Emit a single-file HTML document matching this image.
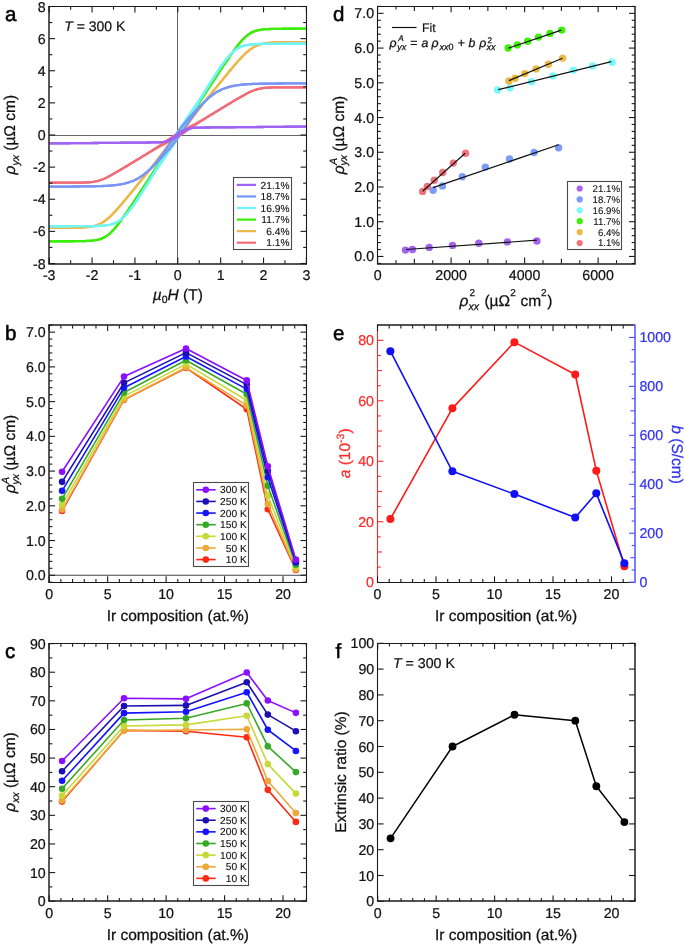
<!DOCTYPE html>
<html><head><meta charset="utf-8"><style>
html,body{margin:0;padding:0;background:#fff;}
svg{display:block;font-family:"Liberation Sans", sans-serif;text-rendering:geometricPrecision;will-change:transform;}
</style></head><body>
<svg width="685" height="944" viewBox="0 0 685 944">
<defs><clipPath id="clipA"><rect x="49.2" y="6.5" width="257.2" height="257"/></clipPath></defs>
<rect x="0" y="0" width="685" height="944" fill="#fff"/>
<line x1="177.5" y1="6.5" x2="177.5" y2="263.5" stroke="#666" stroke-width="1.0" />
<line x1="49.2" y1="135.5" x2="306.4" y2="135.5" stroke="#666" stroke-width="1.0" />
<g clip-path="url(#clipA)">
<polyline points="44.91,182.74 46.24,182.74 47.57,182.74 48.9,182.74 50.23,182.74 51.56,182.73 52.89,182.73 54.22,182.73 55.54,182.73 56.87,182.73 58.2,182.72 59.53,182.72 60.86,182.72 62.19,182.72 63.52,182.71 64.85,182.71 66.18,182.71 67.5,182.7 68.83,182.7 70.16,182.69 71.49,182.69 72.82,182.68 74.15,182.67 75.48,182.66 76.81,182.65 78.13,182.64 79.46,182.62 80.79,182.6 82.12,182.57 83.45,182.53 84.78,182.49 86.11,182.44 87.44,182.37 88.77,182.28 90.09,182.17 91.42,182.04 92.75,181.88 94.08,181.68 95.41,181.44 96.74,181.16 98.07,180.84 99.4,180.46 100.73,180.03 102.05,179.55 103.38,179.03 104.71,178.46 106.04,177.85 107.37,177.21 108.7,176.53 110.03,175.83 111.36,175.11 112.69,174.37 114.01,173.62 115.34,172.85 116.67,172.08 118,171.29 119.33,170.51 120.66,169.71 121.99,168.92 123.32,168.12 124.65,167.32 125.97,166.52 127.3,165.71 128.63,164.91 129.96,164.1 131.29,163.29 132.62,162.49 133.95,161.68 135.28,160.87 136.61,160.06 137.93,159.25 139.26,158.44 140.59,157.63 141.92,156.81 143.25,156 144.58,155.18 145.91,154.36 147.24,153.53 148.56,152.7 149.89,151.87 151.22,151.03 152.55,150.19 153.88,149.33 155.21,148.47 156.54,147.6 157.87,146.72 159.2,145.84 160.52,144.95 161.85,144.04 163.18,143.14 164.51,142.23 165.84,141.32 167.17,140.4 168.5,139.49 169.83,138.59 171.16,137.7 172.48,136.81 173.81,135.94 175.14,135.09 176.47,134.25 177.8,133.43 179.13,132.64 180.46,131.85 181.79,131.09 183.12,130.34 184.44,129.61 185.77,128.89 187.1,128.17 188.43,127.47 189.76,126.76 191.09,126.06 192.42,125.35 193.75,124.64 195.08,123.92 196.4,123.2 197.73,122.47 199.06,121.73 200.39,120.98 201.72,120.22 203.05,119.46 204.38,118.69 205.71,117.91 207.04,117.12 208.36,116.34 209.69,115.54 211.02,114.75 212.35,113.95 213.68,113.15 215.01,112.35 216.34,111.54 217.67,110.74 218.99,109.93 220.32,109.12 221.65,108.32 222.98,107.51 224.31,106.7 225.64,105.9 226.97,105.09 228.3,104.29 229.63,103.48 230.95,102.68 232.28,101.88 233.61,101.08 234.94,100.29 236.27,99.49 237.6,98.71 238.93,97.92 240.26,97.15 241.59,96.38 242.91,95.63 244.24,94.89 245.57,94.17 246.9,93.47 248.23,92.79 249.56,92.15 250.89,91.54 252.22,90.97 253.55,90.45 254.87,89.97 256.2,89.54 257.53,89.16 258.86,88.84 260.19,88.56 261.52,88.32 262.85,88.12 264.18,87.96 265.51,87.83 266.83,87.72 268.16,87.63 269.49,87.56 270.82,87.51 272.15,87.47 273.48,87.43 274.81,87.4 276.14,87.38 277.46,87.36 278.79,87.35 280.12,87.34 281.45,87.33 282.78,87.32 284.11,87.31 285.44,87.31 286.77,87.3 288.1,87.3 289.42,87.29 290.75,87.29 292.08,87.29 293.41,87.28 294.74,87.28 296.07,87.28 297.4,87.28 298.73,87.27 300.06,87.27 301.38,87.27 302.71,87.27 304.04,87.27 305.37,87.26 306.7,87.26 308.03,87.26 309.36,87.26 310.69,87.26" fill="none" stroke="#f06d78" stroke-width="2.3" stroke-linejoin="round" />
<polyline points="44.91,182.74 46.24,182.74 47.57,182.74 48.9,182.74 50.23,182.74 51.56,182.73 52.89,182.73 54.22,182.73 55.54,182.73 56.87,182.73 58.2,182.72 59.53,182.72 60.86,182.72 62.19,182.72 63.52,182.71 64.85,182.71 66.18,182.71 67.5,182.7 68.83,182.7 70.16,182.69 71.49,182.69 72.82,182.68 74.15,182.67 75.48,182.66 76.81,182.65 78.13,182.64 79.46,182.62 80.79,182.6 82.12,182.57 83.45,182.53 84.78,182.49 86.11,182.44 87.44,182.37 88.77,182.28 90.09,182.17 91.42,182.04 92.75,181.88 94.08,181.68 95.41,181.44 96.74,181.16 98.07,180.84 99.4,180.46 100.73,180.03 102.05,179.55 103.38,179.03 104.71,178.46 106.04,177.85 107.37,177.21 108.7,176.53 110.03,175.83 111.36,175.11 112.69,174.37 114.01,173.62 115.34,172.85 116.67,172.08 118,171.29 119.33,170.51 120.66,169.71 121.99,168.92 123.32,168.12 124.65,167.32 125.97,166.52 127.3,165.71 128.63,164.91 129.96,164.1 131.29,163.3 132.62,162.49 133.95,161.68 135.28,160.88 136.61,160.07 137.93,159.26 139.26,158.46 140.59,157.65 141.92,156.85 143.25,156.05 144.58,155.25 145.91,154.46 147.24,153.66 148.56,152.88 149.89,152.09 151.22,151.31 152.55,150.54 153.88,149.78 155.21,149.02 156.54,148.27 157.87,147.53 159.2,146.8 160.52,146.08 161.85,145.36 163.18,144.65 164.51,143.94 165.84,143.24 167.17,142.53 168.5,141.83 169.83,141.11 171.16,140.39 172.48,139.66 173.81,138.91 175.14,138.15 176.47,137.36 177.8,136.57 179.13,135.75 180.46,134.91 181.79,134.06 183.12,133.19 184.44,132.3 185.77,131.41 187.1,130.51 188.43,129.6 189.76,128.68 191.09,127.77 192.42,126.86 193.75,125.96 195.08,125.05 196.4,124.16 197.73,123.28 199.06,122.4 200.39,121.53 201.72,120.67 203.05,119.81 204.38,118.97 205.71,118.13 207.04,117.3 208.36,116.47 209.69,115.64 211.02,114.82 212.35,114 213.68,113.19 215.01,112.37 216.34,111.56 217.67,110.75 218.99,109.94 220.32,109.13 221.65,108.32 222.98,107.51 224.31,106.71 225.64,105.9 226.97,105.09 228.3,104.29 229.63,103.48 230.95,102.68 232.28,101.88 233.61,101.08 234.94,100.29 236.27,99.49 237.6,98.71 238.93,97.92 240.26,97.15 241.59,96.38 242.91,95.63 244.24,94.89 245.57,94.17 246.9,93.47 248.23,92.79 249.56,92.15 250.89,91.54 252.22,90.97 253.55,90.45 254.87,89.97 256.2,89.54 257.53,89.16 258.86,88.84 260.19,88.56 261.52,88.32 262.85,88.12 264.18,87.96 265.51,87.83 266.83,87.72 268.16,87.63 269.49,87.56 270.82,87.51 272.15,87.47 273.48,87.43 274.81,87.4 276.14,87.38 277.46,87.36 278.79,87.35 280.12,87.34 281.45,87.33 282.78,87.32 284.11,87.31 285.44,87.31 286.77,87.3 288.1,87.3 289.42,87.29 290.75,87.29 292.08,87.29 293.41,87.28 294.74,87.28 296.07,87.28 297.4,87.28 298.73,87.27 300.06,87.27 301.38,87.27 302.71,87.27 304.04,87.27 305.37,87.26 306.7,87.26 308.03,87.26 309.36,87.26 310.69,87.26" fill="none" stroke="#f06d78" stroke-width="2.3" stroke-linejoin="round" />
<polyline points="44.91,227.83 46.24,227.83 47.57,227.83 48.9,227.82 50.23,227.82 51.56,227.82 52.89,227.82 54.22,227.82 55.54,227.81 56.87,227.81 58.2,227.81 59.53,227.8 60.86,227.8 62.19,227.8 63.52,227.79 64.85,227.78 66.18,227.78 67.5,227.77 68.83,227.76 70.16,227.75 71.49,227.74 72.82,227.72 74.15,227.7 75.48,227.68 76.81,227.65 78.13,227.62 79.46,227.57 80.79,227.52 82.12,227.46 83.45,227.39 84.78,227.3 86.11,227.2 87.44,227.07 88.77,226.91 90.09,226.72 91.42,226.5 92.75,226.24 94.08,225.92 95.41,225.55 96.74,225.12 98.07,224.63 99.4,224.06 100.73,223.41 102.05,222.67 103.38,221.86 104.71,220.96 106.04,219.98 107.37,218.92 108.7,217.79 110.03,216.58 111.36,215.32 112.69,213.99 114.01,212.62 115.34,211.21 116.67,209.75 118,208.27 119.33,206.76 120.66,205.22 121.99,203.67 123.32,202.1 124.65,200.51 125.97,198.92 127.3,197.31 128.63,195.7 129.96,194.09 131.29,192.46 132.62,190.84 133.95,189.2 135.28,187.57 136.61,185.93 137.93,184.29 139.26,182.65 140.59,181.01 141.92,179.36 143.25,177.7 144.58,176.05 145.91,174.39 147.24,172.72 148.56,171.05 149.89,169.36 151.22,167.67 152.55,165.97 153.88,164.26 155.21,162.54 156.54,160.8 157.87,159.05 159.2,157.29 160.52,155.51 161.85,153.73 163.18,151.94 164.51,150.14 165.84,148.33 167.17,146.53 168.5,144.73 169.83,142.94 171.16,141.17 172.48,139.41 173.81,137.67 175.14,135.96 176.47,134.27 177.8,132.61 179.13,130.98 180.46,129.38 181.79,127.8 183.12,126.25 184.44,124.72 185.77,123.21 187.1,121.71 188.43,120.22 189.76,118.73 191.09,117.24 192.42,115.75 193.75,114.26 195.08,112.76 196.4,111.24 197.73,109.71 199.06,108.17 200.39,106.62 201.72,105.06 203.05,103.48 204.38,101.89 205.71,100.3 207.04,98.69 208.36,97.08 209.69,95.46 211.02,93.84 212.35,92.21 213.68,90.58 215.01,88.95 216.34,87.32 217.67,85.68 218.99,84.05 220.32,82.42 221.65,80.79 222.98,79.16 224.31,77.53 225.64,75.91 226.97,74.3 228.3,72.69 229.63,71.08 230.95,69.49 232.28,67.9 233.61,66.33 234.94,64.78 236.27,63.24 237.6,61.73 238.93,60.25 240.26,58.79 241.59,57.38 242.91,56.01 244.24,54.68 245.57,53.42 246.9,52.21 248.23,51.08 249.56,50.02 250.89,49.04 252.22,48.14 253.55,47.33 254.87,46.59 256.2,45.94 257.53,45.37 258.86,44.88 260.19,44.45 261.52,44.08 262.85,43.76 264.18,43.5 265.51,43.28 266.83,43.09 268.16,42.93 269.49,42.8 270.82,42.7 272.15,42.61 273.48,42.54 274.81,42.48 276.14,42.43 277.46,42.38 278.79,42.35 280.12,42.32 281.45,42.3 282.78,42.28 284.11,42.26 285.44,42.25 286.77,42.24 288.1,42.23 289.42,42.22 290.75,42.22 292.08,42.21 293.41,42.2 294.74,42.2 296.07,42.2 297.4,42.19 298.73,42.19 300.06,42.19 301.38,42.18 302.71,42.18 304.04,42.18 305.37,42.18 306.7,42.18 308.03,42.17 309.36,42.17 310.69,42.17" fill="none" stroke="#ecb848" stroke-width="2.3" stroke-linejoin="round" />
<polyline points="44.91,227.83 46.24,227.83 47.57,227.83 48.9,227.82 50.23,227.82 51.56,227.82 52.89,227.82 54.22,227.82 55.54,227.81 56.87,227.81 58.2,227.81 59.53,227.8 60.86,227.8 62.19,227.8 63.52,227.79 64.85,227.78 66.18,227.78 67.5,227.77 68.83,227.76 70.16,227.75 71.49,227.74 72.82,227.72 74.15,227.7 75.48,227.68 76.81,227.65 78.13,227.62 79.46,227.57 80.79,227.52 82.12,227.46 83.45,227.39 84.78,227.3 86.11,227.2 87.44,227.07 88.77,226.91 90.09,226.72 91.42,226.5 92.75,226.24 94.08,225.92 95.41,225.55 96.74,225.12 98.07,224.63 99.4,224.06 100.73,223.41 102.05,222.67 103.38,221.86 104.71,220.96 106.04,219.98 107.37,218.92 108.7,217.79 110.03,216.58 111.36,215.32 112.69,213.99 114.01,212.62 115.34,211.21 116.67,209.75 118,208.27 119.33,206.76 120.66,205.22 121.99,203.67 123.32,202.1 124.65,200.51 125.97,198.92 127.3,197.31 128.63,195.7 129.96,194.09 131.29,192.47 132.62,190.84 133.95,189.21 135.28,187.58 136.61,185.95 137.93,184.32 139.26,182.68 140.59,181.05 141.92,179.42 143.25,177.79 144.58,176.16 145.91,174.54 147.24,172.92 148.56,171.31 149.89,169.7 151.22,168.11 152.55,166.52 153.88,164.94 155.21,163.38 156.54,161.83 157.87,160.29 159.2,158.76 160.52,157.24 161.85,155.74 163.18,154.25 164.51,152.76 165.84,151.27 167.17,149.78 168.5,148.29 169.83,146.79 171.16,145.28 172.48,143.75 173.81,142.2 175.14,140.62 176.47,139.02 177.8,137.39 179.13,135.73 180.46,134.04 181.79,132.33 183.12,130.59 184.44,128.83 185.77,127.06 187.1,125.27 188.43,123.47 189.76,121.67 191.09,119.86 192.42,118.06 193.75,116.27 195.08,114.49 196.4,112.71 197.73,110.95 199.06,109.2 200.39,107.46 201.72,105.74 203.05,104.03 204.38,102.33 205.71,100.64 207.04,98.95 208.36,97.28 209.69,95.61 211.02,93.95 212.35,92.3 213.68,90.64 215.01,88.99 216.34,87.35 217.67,85.71 218.99,84.07 220.32,82.43 221.65,80.8 222.98,79.16 224.31,77.54 225.64,75.91 226.97,74.3 228.3,72.69 229.63,71.08 230.95,69.49 232.28,67.9 233.61,66.33 234.94,64.78 236.27,63.24 237.6,61.73 238.93,60.25 240.26,58.79 241.59,57.38 242.91,56.01 244.24,54.68 245.57,53.42 246.9,52.21 248.23,51.08 249.56,50.02 250.89,49.04 252.22,48.14 253.55,47.33 254.87,46.59 256.2,45.94 257.53,45.37 258.86,44.88 260.19,44.45 261.52,44.08 262.85,43.76 264.18,43.5 265.51,43.28 266.83,43.09 268.16,42.93 269.49,42.8 270.82,42.7 272.15,42.61 273.48,42.54 274.81,42.48 276.14,42.43 277.46,42.38 278.79,42.35 280.12,42.32 281.45,42.3 282.78,42.28 284.11,42.26 285.44,42.25 286.77,42.24 288.1,42.23 289.42,42.22 290.75,42.22 292.08,42.21 293.41,42.2 294.74,42.2 296.07,42.2 297.4,42.19 298.73,42.19 300.06,42.19 301.38,42.18 302.71,42.18 304.04,42.18 305.37,42.18 306.7,42.18 308.03,42.17 309.36,42.17 310.69,42.17" fill="none" stroke="#ecb848" stroke-width="2.3" stroke-linejoin="round" />
<polyline points="44.91,241.31 46.24,241.31 47.57,241.3 48.9,241.3 50.23,241.3 51.56,241.3 52.89,241.29 54.22,241.29 55.54,241.29 56.87,241.28 58.2,241.28 59.53,241.28 60.86,241.27 62.19,241.27 63.52,241.26 64.85,241.26 66.18,241.26 67.5,241.25 68.83,241.25 70.16,241.24 71.49,241.23 72.82,241.23 74.15,241.22 75.48,241.21 76.81,241.19 78.13,241.18 79.46,241.16 80.79,241.14 82.12,241.12 83.45,241.09 84.78,241.05 86.11,241 87.44,240.95 88.77,240.88 90.09,240.79 91.42,240.68 92.75,240.55 94.08,240.39 95.41,240.2 96.74,239.96 98.07,239.67 99.4,239.31 100.73,238.89 102.05,238.39 103.38,237.8 104.71,237.11 106.04,236.32 107.37,235.41 108.7,234.39 110.03,233.26 111.36,232.02 112.69,230.67 114.01,229.22 115.34,227.69 116.67,226.08 118,224.4 119.33,222.66 120.66,220.87 121.99,219.04 123.32,217.17 124.65,215.28 125.97,213.36 127.3,211.42 128.63,209.47 129.96,207.5 131.29,205.52 132.62,203.53 133.95,201.54 135.28,199.54 136.61,197.53 137.93,195.52 139.26,193.51 140.59,191.49 141.92,189.47 143.25,187.44 144.58,185.4 145.91,183.37 147.24,181.32 148.56,179.26 149.89,177.2 151.22,175.12 152.55,173.03 153.88,170.93 155.21,168.81 156.54,166.68 157.87,164.53 159.2,162.37 160.52,160.19 161.85,158 163.18,155.8 164.51,153.59 165.84,151.37 167.17,149.16 168.5,146.95 169.83,144.76 171.16,142.58 172.48,140.42 173.81,138.28 175.14,136.18 176.47,134.11 177.8,132.07 179.13,130.07 180.46,128.1 181.79,126.16 183.12,124.26 184.44,122.38 185.77,120.52 187.1,118.68 188.43,116.85 189.76,115.02 191.09,113.2 192.42,111.37 193.75,109.53 195.08,107.68 196.4,105.82 197.73,103.95 199.06,102.06 200.39,100.15 201.72,98.23 203.05,96.3 204.38,94.35 205.71,92.39 207.04,90.42 208.36,88.44 209.69,86.45 211.02,84.46 212.35,82.46 213.68,80.46 215.01,78.46 216.34,76.46 217.67,74.45 218.99,72.45 220.32,70.45 221.65,68.45 222.98,66.46 224.31,64.48 225.64,62.5 226.97,60.53 228.3,58.58 229.63,56.64 230.95,54.72 232.28,52.83 233.61,50.96 234.94,49.13 236.27,47.34 237.6,45.6 238.93,43.92 240.26,42.31 241.59,40.78 242.91,39.33 244.24,37.98 245.57,36.74 246.9,35.61 248.23,34.59 249.56,33.68 250.89,32.89 252.22,32.2 253.55,31.61 254.87,31.11 256.2,30.69 257.53,30.33 258.86,30.04 260.19,29.8 261.52,29.61 262.85,29.45 264.18,29.32 265.51,29.21 266.83,29.12 268.16,29.05 269.49,29 270.82,28.95 272.15,28.91 273.48,28.88 274.81,28.86 276.14,28.84 277.46,28.82 278.79,28.81 280.12,28.79 281.45,28.78 282.78,28.77 284.11,28.77 285.44,28.76 286.77,28.75 288.1,28.75 289.42,28.74 290.75,28.74 292.08,28.74 293.41,28.73 294.74,28.73 296.07,28.72 297.4,28.72 298.73,28.72 300.06,28.71 301.38,28.71 302.71,28.71 304.04,28.7 305.37,28.7 306.7,28.7 308.03,28.7 309.36,28.69 310.69,28.69" fill="none" stroke="#3aee0a" stroke-width="2.3" stroke-linejoin="round" />
<polyline points="44.91,241.31 46.24,241.31 47.57,241.3 48.9,241.3 50.23,241.3 51.56,241.3 52.89,241.29 54.22,241.29 55.54,241.29 56.87,241.28 58.2,241.28 59.53,241.28 60.86,241.27 62.19,241.27 63.52,241.26 64.85,241.26 66.18,241.26 67.5,241.25 68.83,241.25 70.16,241.24 71.49,241.23 72.82,241.23 74.15,241.22 75.48,241.21 76.81,241.19 78.13,241.18 79.46,241.16 80.79,241.14 82.12,241.12 83.45,241.09 84.78,241.05 86.11,241 87.44,240.95 88.77,240.88 90.09,240.79 91.42,240.68 92.75,240.55 94.08,240.39 95.41,240.2 96.74,239.96 98.07,239.67 99.4,239.31 100.73,238.89 102.05,238.39 103.38,237.8 104.71,237.11 106.04,236.32 107.37,235.41 108.7,234.39 110.03,233.26 111.36,232.02 112.69,230.67 114.01,229.22 115.34,227.69 116.67,226.08 118,224.4 119.33,222.66 120.66,220.87 121.99,219.04 123.32,217.17 124.65,215.28 125.97,213.36 127.3,211.42 128.63,209.47 129.96,207.5 131.29,205.52 132.62,203.54 133.95,201.55 135.28,199.55 136.61,197.55 137.93,195.55 139.26,193.54 140.59,191.54 141.92,189.54 143.25,187.54 144.58,185.54 145.91,183.55 147.24,181.56 148.56,179.58 149.89,177.61 151.22,175.65 152.55,173.7 153.88,171.77 155.21,169.85 156.54,167.94 157.87,166.05 159.2,164.18 160.52,162.32 161.85,160.47 163.18,158.63 164.51,156.8 165.84,154.98 167.17,153.15 168.5,151.32 169.83,149.48 171.16,147.62 172.48,145.74 173.81,143.84 175.14,141.9 176.47,139.93 177.8,137.93 179.13,135.89 180.46,133.82 181.79,131.72 183.12,129.58 184.44,127.42 185.77,125.24 187.1,123.05 188.43,120.84 189.76,118.63 191.09,116.41 192.42,114.2 193.75,112 195.08,109.81 196.4,107.63 197.73,105.47 199.06,103.32 200.39,101.19 201.72,99.07 203.05,96.97 204.38,94.88 205.71,92.8 207.04,90.74 208.36,88.68 209.69,86.63 211.02,84.6 212.35,82.56 213.68,80.53 215.01,78.51 216.34,76.49 217.67,74.48 218.99,72.47 220.32,70.46 221.65,68.46 222.98,66.47 224.31,64.48 225.64,62.5 226.97,60.53 228.3,58.58 229.63,56.64 230.95,54.72 232.28,52.83 233.61,50.96 234.94,49.13 236.27,47.34 237.6,45.6 238.93,43.92 240.26,42.31 241.59,40.78 242.91,39.33 244.24,37.98 245.57,36.74 246.9,35.61 248.23,34.59 249.56,33.68 250.89,32.89 252.22,32.2 253.55,31.61 254.87,31.11 256.2,30.69 257.53,30.33 258.86,30.04 260.19,29.8 261.52,29.61 262.85,29.45 264.18,29.32 265.51,29.21 266.83,29.12 268.16,29.05 269.49,29 270.82,28.95 272.15,28.91 273.48,28.88 274.81,28.86 276.14,28.84 277.46,28.82 278.79,28.81 280.12,28.79 281.45,28.78 282.78,28.77 284.11,28.77 285.44,28.76 286.77,28.75 288.1,28.75 289.42,28.74 290.75,28.74 292.08,28.74 293.41,28.73 294.74,28.73 296.07,28.72 297.4,28.72 298.73,28.72 300.06,28.71 301.38,28.71 302.71,28.71 304.04,28.7 305.37,28.7 306.7,28.7 308.03,28.7 309.36,28.69 310.69,28.69" fill="none" stroke="#3aee0a" stroke-width="2.3" stroke-linejoin="round" />
<polyline points="44.91,226.27 46.24,226.27 47.57,226.27 48.9,226.27 50.23,226.27 51.56,226.26 52.89,226.26 54.22,226.26 55.54,226.26 56.87,226.26 58.2,226.25 59.53,226.25 60.86,226.25 62.19,226.25 63.52,226.24 64.85,226.24 66.18,226.24 67.5,226.24 68.83,226.24 70.16,226.23 71.49,226.23 72.82,226.23 74.15,226.22 75.48,226.22 76.81,226.22 78.13,226.21 79.46,226.21 80.79,226.2 82.12,226.2 83.45,226.19 84.78,226.19 86.11,226.18 87.44,226.17 88.77,226.15 90.09,226.14 91.42,226.12 92.75,226.1 94.08,226.07 95.41,226.04 96.74,226 98.07,225.95 99.4,225.9 100.73,225.83 102.05,225.74 103.38,225.63 104.71,225.5 106.04,225.35 107.37,225.16 108.7,224.93 110.03,224.65 111.36,224.31 112.69,223.92 114.01,223.45 115.34,222.89 116.67,222.25 118,221.5 119.33,220.65 120.66,219.69 121.99,218.61 123.32,217.42 124.65,216.12 125.97,214.71 127.3,213.2 128.63,211.61 129.96,209.93 131.29,208.17 132.62,206.36 133.95,204.48 135.28,202.57 136.61,200.61 137.93,198.61 139.26,196.59 140.59,194.54 141.92,192.47 143.25,190.38 144.58,188.27 145.91,186.15 147.24,184.01 148.56,181.86 149.89,179.69 151.22,177.5 152.55,175.3 153.88,173.08 155.21,170.84 156.54,168.59 157.87,166.32 159.2,164.03 160.52,161.72 161.85,159.4 163.18,157.06 164.51,154.72 165.84,152.37 167.17,150.02 168.5,147.68 169.83,145.35 171.16,143.04 172.48,140.75 173.81,138.48 175.14,136.25 176.47,134.05 177.8,131.89 179.13,129.77 180.46,127.68 181.79,125.63 183.12,123.6 184.44,121.61 185.77,119.64 187.1,117.69 188.43,115.74 189.76,113.81 191.09,111.87 192.42,109.93 193.75,107.99 195.08,106.03 196.4,104.06 197.73,102.08 199.06,100.08 200.39,98.06 201.72,96.03 203.05,93.99 204.38,91.94 205.71,89.88 207.04,87.81 208.36,85.73 209.69,83.66 211.02,81.59 212.35,79.52 213.68,77.46 215.01,75.41 216.34,73.37 217.67,71.36 218.99,69.38 220.32,67.42 221.65,65.51 222.98,63.64 224.31,61.82 225.64,60.07 226.97,58.39 228.3,56.79 229.63,55.29 230.95,53.88 232.28,52.58 233.61,51.39 234.94,50.31 236.27,49.35 237.6,48.5 238.93,47.75 240.26,47.11 241.59,46.55 242.91,46.08 244.24,45.69 245.57,45.35 246.9,45.07 248.23,44.84 249.56,44.65 250.89,44.5 252.22,44.37 253.55,44.26 254.87,44.17 256.2,44.1 257.53,44.05 258.86,44 260.19,43.96 261.52,43.93 262.85,43.9 264.18,43.88 265.51,43.86 266.83,43.85 268.16,43.83 269.49,43.82 270.82,43.81 272.15,43.81 273.48,43.8 274.81,43.8 276.14,43.79 277.46,43.79 278.79,43.78 280.12,43.78 281.45,43.78 282.78,43.77 284.11,43.77 285.44,43.77 286.77,43.76 288.1,43.76 289.42,43.76 290.75,43.76 292.08,43.76 293.41,43.75 294.74,43.75 296.07,43.75 297.4,43.75 298.73,43.74 300.06,43.74 301.38,43.74 302.71,43.74 304.04,43.74 305.37,43.73 306.7,43.73 308.03,43.73 309.36,43.73 310.69,43.73" fill="none" stroke="#70f4f8" stroke-width="2.3" stroke-linejoin="round" />
<polyline points="44.91,226.27 46.24,226.27 47.57,226.27 48.9,226.27 50.23,226.27 51.56,226.26 52.89,226.26 54.22,226.26 55.54,226.26 56.87,226.26 58.2,226.25 59.53,226.25 60.86,226.25 62.19,226.25 63.52,226.24 64.85,226.24 66.18,226.24 67.5,226.24 68.83,226.24 70.16,226.23 71.49,226.23 72.82,226.23 74.15,226.22 75.48,226.22 76.81,226.22 78.13,226.21 79.46,226.21 80.79,226.2 82.12,226.2 83.45,226.19 84.78,226.19 86.11,226.18 87.44,226.17 88.77,226.15 90.09,226.14 91.42,226.12 92.75,226.1 94.08,226.07 95.41,226.04 96.74,226 98.07,225.95 99.4,225.9 100.73,225.83 102.05,225.74 103.38,225.63 104.71,225.5 106.04,225.35 107.37,225.16 108.7,224.93 110.03,224.65 111.36,224.31 112.69,223.92 114.01,223.45 115.34,222.89 116.67,222.25 118,221.5 119.33,220.65 120.66,219.69 121.99,218.61 123.32,217.42 124.65,216.12 125.97,214.71 127.3,213.21 128.63,211.61 129.96,209.93 131.29,208.18 132.62,206.36 133.95,204.49 135.28,202.58 136.61,200.62 137.93,198.64 139.26,196.63 140.59,194.59 141.92,192.54 143.25,190.48 144.58,188.41 145.91,186.34 147.24,184.27 148.56,182.19 149.89,180.12 151.22,178.06 152.55,176.01 153.88,173.97 155.21,171.94 156.54,169.92 157.87,167.92 159.2,165.94 160.52,163.97 161.85,162.01 163.18,160.07 164.51,158.13 165.84,156.19 167.17,154.26 168.5,152.31 169.83,150.36 171.16,148.39 172.48,146.4 173.81,144.37 175.14,142.32 176.47,140.23 177.8,138.11 179.13,135.95 180.46,133.75 181.79,131.52 183.12,129.25 184.44,126.96 185.77,124.65 187.1,122.32 188.43,119.98 189.76,117.63 191.09,115.28 192.42,112.94 193.75,110.6 195.08,108.28 196.4,105.97 197.73,103.68 199.06,101.41 200.39,99.16 201.72,96.92 203.05,94.7 204.38,92.5 205.71,90.31 207.04,88.14 208.36,85.99 209.69,83.85 211.02,81.73 212.35,79.62 213.68,77.53 215.01,75.46 216.34,73.41 217.67,71.39 218.99,69.39 220.32,67.43 221.65,65.52 222.98,63.64 224.31,61.83 225.64,60.07 226.97,58.39 228.3,56.8 229.63,55.29 230.95,53.88 232.28,52.58 233.61,51.39 234.94,50.31 236.27,49.35 237.6,48.5 238.93,47.75 240.26,47.11 241.59,46.55 242.91,46.08 244.24,45.69 245.57,45.35 246.9,45.07 248.23,44.84 249.56,44.65 250.89,44.5 252.22,44.37 253.55,44.26 254.87,44.17 256.2,44.1 257.53,44.05 258.86,44 260.19,43.96 261.52,43.93 262.85,43.9 264.18,43.88 265.51,43.86 266.83,43.85 268.16,43.83 269.49,43.82 270.82,43.81 272.15,43.81 273.48,43.8 274.81,43.8 276.14,43.79 277.46,43.79 278.79,43.78 280.12,43.78 281.45,43.78 282.78,43.77 284.11,43.77 285.44,43.77 286.77,43.76 288.1,43.76 289.42,43.76 290.75,43.76 292.08,43.76 293.41,43.75 294.74,43.75 296.07,43.75 297.4,43.75 298.73,43.74 300.06,43.74 301.38,43.74 302.71,43.74 304.04,43.74 305.37,43.73 306.7,43.73 308.03,43.73 309.36,43.73 310.69,43.73" fill="none" stroke="#70f4f8" stroke-width="2.3" stroke-linejoin="round" />
<polyline points="44.91,186.67 46.24,186.67 47.57,186.66 48.9,186.66 50.23,186.65 51.56,186.64 52.89,186.64 54.22,186.63 55.54,186.62 56.87,186.62 58.2,186.61 59.53,186.6 60.86,186.6 62.19,186.59 63.52,186.58 64.85,186.57 66.18,186.57 67.5,186.56 68.83,186.55 70.16,186.54 71.49,186.53 72.82,186.52 74.15,186.51 75.48,186.5 76.81,186.49 78.13,186.48 79.46,186.47 80.79,186.46 82.12,186.45 83.45,186.43 84.78,186.42 86.11,186.4 87.44,186.38 88.77,186.36 90.09,186.34 91.42,186.32 92.75,186.3 94.08,186.27 95.41,186.24 96.74,186.21 98.07,186.17 99.4,186.13 100.73,186.09 102.05,186.04 103.38,185.98 104.71,185.92 106.04,185.85 107.37,185.78 108.7,185.7 110.03,185.6 111.36,185.5 112.69,185.38 114.01,185.25 115.34,185.11 116.67,184.95 118,184.77 119.33,184.58 120.66,184.36 121.99,184.11 123.32,183.85 124.65,183.55 125.97,183.22 127.3,182.85 128.63,182.45 129.96,182.02 131.29,181.53 132.62,181.01 133.95,180.44 135.28,179.81 136.61,179.14 137.93,178.41 139.26,177.63 140.59,176.78 141.92,175.88 143.25,174.92 144.58,173.9 145.91,172.81 147.24,171.67 148.56,170.46 149.89,169.18 151.22,167.85 152.55,166.45 153.88,164.99 155.21,163.47 156.54,161.89 157.87,160.25 159.2,158.56 160.52,156.81 161.85,155.02 163.18,153.18 164.51,151.31 165.84,149.4 167.17,147.47 168.5,145.52 169.83,143.56 171.16,141.6 172.48,139.65 173.81,137.71 175.14,135.78 176.47,133.89 177.8,132.03 179.13,130.23 180.46,128.46 181.79,126.75 183.12,125.07 184.44,123.43 185.77,121.83 187.1,120.26 188.43,118.72 189.76,117.2 191.09,115.7 192.42,114.22 193.75,112.76 195.08,111.31 196.4,109.88 197.73,108.47 199.06,107.08 200.39,105.71 201.72,104.36 203.05,103.05 204.38,101.77 205.71,100.53 207.04,99.33 208.36,98.18 209.69,97.08 211.02,96.02 212.35,95.02 213.68,94.08 215.01,93.19 216.34,92.36 217.67,91.58 218.99,90.85 220.32,90.18 221.65,89.56 222.98,88.99 224.31,88.46 225.64,87.98 226.97,87.55 228.3,87.15 229.63,86.78 230.95,86.45 232.28,86.15 233.61,85.89 234.94,85.64 236.27,85.42 237.6,85.23 238.93,85.05 240.26,84.89 241.59,84.75 242.91,84.62 244.24,84.5 245.57,84.4 246.9,84.3 248.23,84.22 249.56,84.15 250.89,84.08 252.22,84.02 253.55,83.96 254.87,83.91 256.2,83.87 257.53,83.83 258.86,83.79 260.19,83.76 261.52,83.73 262.85,83.7 264.18,83.68 265.51,83.66 266.83,83.64 268.16,83.62 269.49,83.6 270.82,83.58 272.15,83.57 273.48,83.55 274.81,83.54 276.14,83.53 277.46,83.52 278.79,83.51 280.12,83.5 281.45,83.49 282.78,83.48 284.11,83.47 285.44,83.46 286.77,83.45 288.1,83.44 289.42,83.43 290.75,83.43 292.08,83.42 293.41,83.41 294.74,83.4 296.07,83.4 297.4,83.39 298.73,83.38 300.06,83.38 301.38,83.37 302.71,83.36 304.04,83.36 305.37,83.35 306.7,83.34 308.03,83.34 309.36,83.33 310.69,83.33" fill="none" stroke="#7a96f5" stroke-width="2.3" stroke-linejoin="round" />
<polyline points="44.91,186.67 46.24,186.67 47.57,186.66 48.9,186.66 50.23,186.65 51.56,186.64 52.89,186.64 54.22,186.63 55.54,186.62 56.87,186.62 58.2,186.61 59.53,186.6 60.86,186.6 62.19,186.59 63.52,186.58 64.85,186.57 66.18,186.57 67.5,186.56 68.83,186.55 70.16,186.54 71.49,186.53 72.82,186.52 74.15,186.51 75.48,186.5 76.81,186.49 78.13,186.48 79.46,186.47 80.79,186.46 82.12,186.45 83.45,186.43 84.78,186.42 86.11,186.4 87.44,186.38 88.77,186.36 90.09,186.34 91.42,186.32 92.75,186.3 94.08,186.27 95.41,186.24 96.74,186.21 98.07,186.17 99.4,186.13 100.73,186.09 102.05,186.04 103.38,185.98 104.71,185.92 106.04,185.85 107.37,185.78 108.7,185.7 110.03,185.6 111.36,185.5 112.69,185.38 114.01,185.25 115.34,185.11 116.67,184.95 118,184.77 119.33,184.58 120.66,184.36 121.99,184.11 123.32,183.85 124.65,183.55 125.97,183.22 127.3,182.85 128.63,182.45 129.96,182.02 131.29,181.54 132.62,181.01 133.95,180.44 135.28,179.82 136.61,179.15 137.93,178.42 139.26,177.64 140.59,176.81 141.92,175.92 143.25,174.98 144.58,173.98 145.91,172.92 147.24,171.82 148.56,170.67 149.89,169.47 151.22,168.23 152.55,166.95 153.88,165.64 155.21,164.29 156.54,162.92 157.87,161.53 159.2,160.12 160.52,158.69 161.85,157.24 163.18,155.78 164.51,154.3 165.84,152.8 167.17,151.28 168.5,149.74 169.83,148.17 171.16,146.57 172.48,144.93 173.81,143.25 175.14,141.54 176.47,139.77 177.8,137.97 179.13,136.11 180.46,134.22 181.79,132.29 183.12,130.35 184.44,128.4 185.77,126.44 187.1,124.48 188.43,122.53 189.76,120.6 191.09,118.69 192.42,116.82 193.75,114.98 195.08,113.19 196.4,111.44 197.73,109.75 199.06,108.11 200.39,106.53 201.72,105.01 203.05,103.55 204.38,102.15 205.71,100.82 207.04,99.54 208.36,98.33 209.69,97.19 211.02,96.1 212.35,95.08 213.68,94.12 215.01,93.22 216.34,92.37 217.67,91.59 218.99,90.86 220.32,90.19 221.65,89.56 222.98,88.99 224.31,88.47 225.64,87.98 226.97,87.55 228.3,87.15 229.63,86.78 230.95,86.45 232.28,86.15 233.61,85.89 234.94,85.64 236.27,85.42 237.6,85.23 238.93,85.05 240.26,84.89 241.59,84.75 242.91,84.62 244.24,84.5 245.57,84.4 246.9,84.3 248.23,84.22 249.56,84.15 250.89,84.08 252.22,84.02 253.55,83.96 254.87,83.91 256.2,83.87 257.53,83.83 258.86,83.79 260.19,83.76 261.52,83.73 262.85,83.7 264.18,83.68 265.51,83.66 266.83,83.64 268.16,83.62 269.49,83.6 270.82,83.58 272.15,83.57 273.48,83.55 274.81,83.54 276.14,83.53 277.46,83.52 278.79,83.51 280.12,83.5 281.45,83.49 282.78,83.48 284.11,83.47 285.44,83.46 286.77,83.45 288.1,83.44 289.42,83.43 290.75,83.43 292.08,83.42 293.41,83.41 294.74,83.4 296.07,83.4 297.4,83.39 298.73,83.38 300.06,83.38 301.38,83.37 302.71,83.36 304.04,83.36 305.37,83.35 306.7,83.34 308.03,83.34 309.36,83.33 310.69,83.33" fill="none" stroke="#7a96f5" stroke-width="2.3" stroke-linejoin="round" />
<polyline points="44.91,143.47 46.24,143.46 47.57,143.45 48.9,143.44 50.23,143.42 51.56,143.41 52.89,143.4 54.22,143.39 55.54,143.37 56.87,143.36 58.2,143.35 59.53,143.34 60.86,143.32 62.19,143.31 63.52,143.3 64.85,143.29 66.18,143.27 67.5,143.26 68.83,143.25 70.16,143.24 71.49,143.22 72.82,143.21 74.15,143.2 75.48,143.19 76.81,143.17 78.13,143.16 79.46,143.15 80.79,143.14 82.12,143.12 83.45,143.11 84.78,143.1 86.11,143.09 87.44,143.07 88.77,143.06 90.09,143.05 91.42,143.04 92.75,143.02 94.08,143.01 95.41,143 96.74,142.99 98.07,142.98 99.4,142.96 100.73,142.95 102.05,142.94 103.38,142.93 104.71,142.91 106.04,142.9 107.37,142.89 108.7,142.88 110.03,142.86 111.36,142.85 112.69,142.84 114.01,142.83 115.34,142.81 116.67,142.8 118,142.79 119.33,142.78 120.66,142.76 121.99,142.75 123.32,142.74 124.65,142.73 125.97,142.71 127.3,142.7 128.63,142.69 129.96,142.68 131.29,142.66 132.62,142.65 133.95,142.64 135.28,142.63 136.61,142.61 137.93,142.6 139.26,142.59 140.59,142.58 141.92,142.56 143.25,142.55 144.58,142.54 145.91,142.52 147.24,142.51 148.56,142.5 149.89,142.48 151.22,142.46 152.55,142.45 153.88,142.42 155.21,142.4 156.54,142.36 157.87,142.32 159.2,142.26 160.52,142.17 161.85,142.05 163.18,141.88 164.51,141.64 165.84,141.31 167.17,140.87 168.5,140.32 169.83,139.64 171.16,138.86 172.48,137.98 173.81,137.04 175.14,136.05 176.47,135.04 177.8,134.03 179.13,133.07 180.46,132.17 181.79,131.34 183.12,130.6 184.44,129.95 185.77,129.4 187.1,128.96 188.43,128.6 189.76,128.32 191.09,128.12 192.42,127.96 193.75,127.85 195.08,127.77 196.4,127.7 197.73,127.66 199.06,127.62 200.39,127.59 201.72,127.57 203.05,127.55 204.38,127.53 205.71,127.52 207.04,127.5 208.36,127.49 209.69,127.47 211.02,127.46 212.35,127.45 213.68,127.44 215.01,127.42 216.34,127.41 217.67,127.4 218.99,127.39 220.32,127.37 221.65,127.36 222.98,127.35 224.31,127.34 225.64,127.32 226.97,127.31 228.3,127.3 229.63,127.29 230.95,127.27 232.28,127.26 233.61,127.25 234.94,127.24 236.27,127.22 237.6,127.21 238.93,127.2 240.26,127.19 241.59,127.17 242.91,127.16 244.24,127.15 245.57,127.14 246.9,127.12 248.23,127.11 249.56,127.1 250.89,127.09 252.22,127.07 253.55,127.06 254.87,127.05 256.2,127.04 257.53,127.02 258.86,127.01 260.19,127 261.52,126.99 262.85,126.98 264.18,126.96 265.51,126.95 266.83,126.94 268.16,126.93 269.49,126.91 270.82,126.9 272.15,126.89 273.48,126.88 274.81,126.86 276.14,126.85 277.46,126.84 278.79,126.83 280.12,126.81 281.45,126.8 282.78,126.79 284.11,126.78 285.44,126.76 286.77,126.75 288.1,126.74 289.42,126.73 290.75,126.71 292.08,126.7 293.41,126.69 294.74,126.68 296.07,126.66 297.4,126.65 298.73,126.64 300.06,126.63 301.38,126.61 302.71,126.6 304.04,126.59 305.37,126.58 306.7,126.56 308.03,126.55 309.36,126.54 310.69,126.53" fill="none" stroke="#a062f2" stroke-width="2.3" stroke-linejoin="round" />
<polyline points="44.91,143.47 46.24,143.46 47.57,143.45 48.9,143.44 50.23,143.42 51.56,143.41 52.89,143.4 54.22,143.39 55.54,143.37 56.87,143.36 58.2,143.35 59.53,143.34 60.86,143.32 62.19,143.31 63.52,143.3 64.85,143.29 66.18,143.27 67.5,143.26 68.83,143.25 70.16,143.24 71.49,143.22 72.82,143.21 74.15,143.2 75.48,143.19 76.81,143.17 78.13,143.16 79.46,143.15 80.79,143.14 82.12,143.12 83.45,143.11 84.78,143.1 86.11,143.09 87.44,143.07 88.77,143.06 90.09,143.05 91.42,143.04 92.75,143.02 94.08,143.01 95.41,143 96.74,142.99 98.07,142.98 99.4,142.96 100.73,142.95 102.05,142.94 103.38,142.93 104.71,142.91 106.04,142.9 107.37,142.89 108.7,142.88 110.03,142.86 111.36,142.85 112.69,142.84 114.01,142.83 115.34,142.81 116.67,142.8 118,142.79 119.33,142.78 120.66,142.76 121.99,142.75 123.32,142.74 124.65,142.73 125.97,142.71 127.3,142.7 128.63,142.69 129.96,142.68 131.29,142.66 132.62,142.65 133.95,142.64 135.28,142.63 136.61,142.61 137.93,142.6 139.26,142.59 140.59,142.58 141.92,142.56 143.25,142.55 144.58,142.54 145.91,142.53 147.24,142.51 148.56,142.5 149.89,142.48 151.22,142.47 152.55,142.45 153.88,142.43 155.21,142.41 156.54,142.38 157.87,142.34 159.2,142.3 160.52,142.23 161.85,142.15 163.18,142.04 164.51,141.88 165.84,141.68 167.17,141.4 168.5,141.04 169.83,140.6 171.16,140.05 172.48,139.4 173.81,138.66 175.14,137.83 176.47,136.93 177.8,135.97 179.13,134.96 180.46,133.95 181.79,132.96 183.12,132.02 184.44,131.14 185.77,130.36 187.1,129.68 188.43,129.13 189.76,128.69 191.09,128.36 192.42,128.12 193.75,127.95 195.08,127.83 196.4,127.74 197.73,127.68 199.06,127.64 200.39,127.6 201.72,127.58 203.05,127.55 204.38,127.54 205.71,127.52 207.04,127.5 208.36,127.49 209.69,127.48 211.02,127.46 212.35,127.45 213.68,127.44 215.01,127.42 216.34,127.41 217.67,127.4 218.99,127.39 220.32,127.37 221.65,127.36 222.98,127.35 224.31,127.34 225.64,127.32 226.97,127.31 228.3,127.3 229.63,127.29 230.95,127.27 232.28,127.26 233.61,127.25 234.94,127.24 236.27,127.22 237.6,127.21 238.93,127.2 240.26,127.19 241.59,127.17 242.91,127.16 244.24,127.15 245.57,127.14 246.9,127.12 248.23,127.11 249.56,127.1 250.89,127.09 252.22,127.07 253.55,127.06 254.87,127.05 256.2,127.04 257.53,127.02 258.86,127.01 260.19,127 261.52,126.99 262.85,126.98 264.18,126.96 265.51,126.95 266.83,126.94 268.16,126.93 269.49,126.91 270.82,126.9 272.15,126.89 273.48,126.88 274.81,126.86 276.14,126.85 277.46,126.84 278.79,126.83 280.12,126.81 281.45,126.8 282.78,126.79 284.11,126.78 285.44,126.76 286.77,126.75 288.1,126.74 289.42,126.73 290.75,126.71 292.08,126.7 293.41,126.69 294.74,126.68 296.07,126.66 297.4,126.65 298.73,126.64 300.06,126.63 301.38,126.61 302.71,126.6 304.04,126.59 305.37,126.58 306.7,126.56 308.03,126.55 309.36,126.54 310.69,126.53" fill="none" stroke="#a062f2" stroke-width="2.3" stroke-linejoin="round" />
</g>
<line x1="48.27" y1="6.5" x2="307.05" y2="6.5" stroke="#1a1a1a" stroke-width="1.1" />
<line x1="48.27" y1="264" x2="307.05" y2="264" stroke="#1a1a1a" stroke-width="1.45" />
<line x1="49" y1="6.5" x2="49" y2="264" stroke="#1a1a1a" stroke-width="1.45" />
<line x1="306.5" y1="6.5" x2="306.5" y2="264" stroke="#1a1a1a" stroke-width="1.1" />
<line x1="70.63" y1="263.5" x2="70.63" y2="260.3" stroke="#1a1a1a" stroke-width="1.1" />
<line x1="70.63" y1="6.5" x2="70.63" y2="9.7" stroke="#1a1a1a" stroke-width="1.1" />
<line x1="113.5" y1="263.5" x2="113.5" y2="260.3" stroke="#1a1a1a" stroke-width="1.1" />
<line x1="113.5" y1="6.5" x2="113.5" y2="9.7" stroke="#1a1a1a" stroke-width="1.1" />
<line x1="156.37" y1="263.5" x2="156.37" y2="260.3" stroke="#1a1a1a" stroke-width="1.1" />
<line x1="156.37" y1="6.5" x2="156.37" y2="9.7" stroke="#1a1a1a" stroke-width="1.1" />
<line x1="199.23" y1="263.5" x2="199.23" y2="260.3" stroke="#1a1a1a" stroke-width="1.1" />
<line x1="199.23" y1="6.5" x2="199.23" y2="9.7" stroke="#1a1a1a" stroke-width="1.1" />
<line x1="242.1" y1="263.5" x2="242.1" y2="260.3" stroke="#1a1a1a" stroke-width="1.1" />
<line x1="242.1" y1="6.5" x2="242.1" y2="9.7" stroke="#1a1a1a" stroke-width="1.1" />
<line x1="284.97" y1="263.5" x2="284.97" y2="260.3" stroke="#1a1a1a" stroke-width="1.1" />
<line x1="284.97" y1="6.5" x2="284.97" y2="9.7" stroke="#1a1a1a" stroke-width="1.1" />
<line x1="49.2" y1="263.5" x2="49.2" y2="257.6" stroke="#1a1a1a" stroke-width="1.1" />
<line x1="49.2" y1="6.5" x2="49.2" y2="12.4" stroke="#1a1a1a" stroke-width="1.1" />
<line x1="92.07" y1="263.5" x2="92.07" y2="257.6" stroke="#1a1a1a" stroke-width="1.1" />
<line x1="92.07" y1="6.5" x2="92.07" y2="12.4" stroke="#1a1a1a" stroke-width="1.1" />
<line x1="134.93" y1="263.5" x2="134.93" y2="257.6" stroke="#1a1a1a" stroke-width="1.1" />
<line x1="134.93" y1="6.5" x2="134.93" y2="12.4" stroke="#1a1a1a" stroke-width="1.1" />
<line x1="177.8" y1="263.5" x2="177.8" y2="257.6" stroke="#1a1a1a" stroke-width="1.1" />
<line x1="177.8" y1="6.5" x2="177.8" y2="12.4" stroke="#1a1a1a" stroke-width="1.1" />
<line x1="220.67" y1="263.5" x2="220.67" y2="257.6" stroke="#1a1a1a" stroke-width="1.1" />
<line x1="220.67" y1="6.5" x2="220.67" y2="12.4" stroke="#1a1a1a" stroke-width="1.1" />
<line x1="263.53" y1="263.5" x2="263.53" y2="257.6" stroke="#1a1a1a" stroke-width="1.1" />
<line x1="263.53" y1="6.5" x2="263.53" y2="12.4" stroke="#1a1a1a" stroke-width="1.1" />
<line x1="306.4" y1="263.5" x2="306.4" y2="257.6" stroke="#1a1a1a" stroke-width="1.1" />
<line x1="306.4" y1="6.5" x2="306.4" y2="12.4" stroke="#1a1a1a" stroke-width="1.1" />
<line x1="49.2" y1="247.44" x2="52.4" y2="247.44" stroke="#1a1a1a" stroke-width="1.1" />
<line x1="306.4" y1="247.44" x2="303.2" y2="247.44" stroke="#1a1a1a" stroke-width="1.1" />
<line x1="49.2" y1="215.31" x2="52.4" y2="215.31" stroke="#1a1a1a" stroke-width="1.1" />
<line x1="306.4" y1="215.31" x2="303.2" y2="215.31" stroke="#1a1a1a" stroke-width="1.1" />
<line x1="49.2" y1="183.19" x2="52.4" y2="183.19" stroke="#1a1a1a" stroke-width="1.1" />
<line x1="306.4" y1="183.19" x2="303.2" y2="183.19" stroke="#1a1a1a" stroke-width="1.1" />
<line x1="49.2" y1="151.06" x2="52.4" y2="151.06" stroke="#1a1a1a" stroke-width="1.1" />
<line x1="306.4" y1="151.06" x2="303.2" y2="151.06" stroke="#1a1a1a" stroke-width="1.1" />
<line x1="49.2" y1="118.94" x2="52.4" y2="118.94" stroke="#1a1a1a" stroke-width="1.1" />
<line x1="306.4" y1="118.94" x2="303.2" y2="118.94" stroke="#1a1a1a" stroke-width="1.1" />
<line x1="49.2" y1="86.81" x2="52.4" y2="86.81" stroke="#1a1a1a" stroke-width="1.1" />
<line x1="306.4" y1="86.81" x2="303.2" y2="86.81" stroke="#1a1a1a" stroke-width="1.1" />
<line x1="49.2" y1="54.69" x2="52.4" y2="54.69" stroke="#1a1a1a" stroke-width="1.1" />
<line x1="306.4" y1="54.69" x2="303.2" y2="54.69" stroke="#1a1a1a" stroke-width="1.1" />
<line x1="49.2" y1="22.56" x2="52.4" y2="22.56" stroke="#1a1a1a" stroke-width="1.1" />
<line x1="306.4" y1="22.56" x2="303.2" y2="22.56" stroke="#1a1a1a" stroke-width="1.1" />
<line x1="49.2" y1="263.5" x2="55.1" y2="263.5" stroke="#1a1a1a" stroke-width="1.1" />
<line x1="306.4" y1="263.5" x2="300.5" y2="263.5" stroke="#1a1a1a" stroke-width="1.1" />
<line x1="49.2" y1="231.38" x2="55.1" y2="231.38" stroke="#1a1a1a" stroke-width="1.1" />
<line x1="306.4" y1="231.38" x2="300.5" y2="231.38" stroke="#1a1a1a" stroke-width="1.1" />
<line x1="49.2" y1="199.25" x2="55.1" y2="199.25" stroke="#1a1a1a" stroke-width="1.1" />
<line x1="306.4" y1="199.25" x2="300.5" y2="199.25" stroke="#1a1a1a" stroke-width="1.1" />
<line x1="49.2" y1="167.12" x2="55.1" y2="167.12" stroke="#1a1a1a" stroke-width="1.1" />
<line x1="306.4" y1="167.12" x2="300.5" y2="167.12" stroke="#1a1a1a" stroke-width="1.1" />
<line x1="49.2" y1="135" x2="55.1" y2="135" stroke="#1a1a1a" stroke-width="1.1" />
<line x1="306.4" y1="135" x2="300.5" y2="135" stroke="#1a1a1a" stroke-width="1.1" />
<line x1="49.2" y1="102.88" x2="55.1" y2="102.88" stroke="#1a1a1a" stroke-width="1.1" />
<line x1="306.4" y1="102.88" x2="300.5" y2="102.88" stroke="#1a1a1a" stroke-width="1.1" />
<line x1="49.2" y1="70.75" x2="55.1" y2="70.75" stroke="#1a1a1a" stroke-width="1.1" />
<line x1="306.4" y1="70.75" x2="300.5" y2="70.75" stroke="#1a1a1a" stroke-width="1.1" />
<line x1="49.2" y1="38.62" x2="55.1" y2="38.62" stroke="#1a1a1a" stroke-width="1.1" />
<line x1="306.4" y1="38.62" x2="300.5" y2="38.62" stroke="#1a1a1a" stroke-width="1.1" />
<line x1="49.2" y1="6.5" x2="55.1" y2="6.5" stroke="#1a1a1a" stroke-width="1.1" />
<line x1="306.4" y1="6.5" x2="300.5" y2="6.5" stroke="#1a1a1a" stroke-width="1.1" />
<text x="49.2" y="280" font-size="14.2" text-anchor="middle" fill="#111"  stroke="#111" stroke-width="0.22">-3</text>
<text x="92.07" y="280" font-size="14.2" text-anchor="middle" fill="#111"  stroke="#111" stroke-width="0.22">-2</text>
<text x="134.93" y="280" font-size="14.2" text-anchor="middle" fill="#111"  stroke="#111" stroke-width="0.22">-1</text>
<text x="177.8" y="280" font-size="14.2" text-anchor="middle" fill="#111"  stroke="#111" stroke-width="0.22">0</text>
<text x="220.67" y="280" font-size="14.2" text-anchor="middle" fill="#111"  stroke="#111" stroke-width="0.22">1</text>
<text x="263.53" y="280" font-size="14.2" text-anchor="middle" fill="#111"  stroke="#111" stroke-width="0.22">2</text>
<text x="306.4" y="280" font-size="14.2" text-anchor="middle" fill="#111"  stroke="#111" stroke-width="0.22">3</text>
<text x="45.7" y="268.5" font-size="14.2" text-anchor="end" fill="#111"  stroke="#111" stroke-width="0.22">-8</text>
<text x="45.7" y="236.38" font-size="14.2" text-anchor="end" fill="#111"  stroke="#111" stroke-width="0.22">-6</text>
<text x="45.7" y="204.25" font-size="14.2" text-anchor="end" fill="#111"  stroke="#111" stroke-width="0.22">-4</text>
<text x="45.7" y="172.12" font-size="14.2" text-anchor="end" fill="#111"  stroke="#111" stroke-width="0.22">-2</text>
<text x="45.7" y="140" font-size="14.2" text-anchor="end" fill="#111"  stroke="#111" stroke-width="0.22">0</text>
<text x="45.7" y="107.88" font-size="14.2" text-anchor="end" fill="#111"  stroke="#111" stroke-width="0.22">2</text>
<text x="45.7" y="75.75" font-size="14.2" text-anchor="end" fill="#111"  stroke="#111" stroke-width="0.22">4</text>
<text x="45.7" y="43.62" font-size="14.2" text-anchor="end" fill="#111"  stroke="#111" stroke-width="0.22">6</text>
<text x="45.7" y="11.5" font-size="14.2" text-anchor="end" fill="#111"  stroke="#111" stroke-width="0.22">8</text>
<text x="5" y="20.7" font-size="20.5" text-anchor="start" fill="#000" stroke="#000" stroke-width="0.55">a</text>
<text x="64.2" y="31.3" font-size="14" text-anchor="start" fill="#111"  stroke="#111" stroke-width="0.22"><tspan font-style="italic">T</tspan> = 300 K</text>
<text transform="translate(15.0,134.7) rotate(-90)" font-size="15.5" text-anchor="middle" fill="#111" stroke="#111" stroke-width="0.25"><tspan font-style="italic">ρ</tspan><tspan font-size="10.5" dy="3.5" font-style="italic">yx</tspan><tspan dy="-3.5"> (µΩ cm)</tspan></text>
<text x="177.8" y="299.5" font-size="15.5" text-anchor="middle" fill="#111" stroke="#111" stroke-width="0.25"><tspan font-style="italic">µ</tspan><tspan font-size="10.5" dy="3.5">0</tspan><tspan dy="-3.5" font-style="italic">H</tspan> (T)</text>
<rect x="233.5" y="177.5" width="58" height="72" fill="#fff" stroke="#4a4a4a" stroke-width="1.1"/>
<line x1="236.7" y1="184.9" x2="256" y2="184.9" stroke="#a062f2" stroke-width="2.2" />
<text x="289.5" y="188.5" font-size="10.2" text-anchor="end" fill="#111"  stroke="#111" stroke-width="0.12">21.1%</text>
<line x1="236.7" y1="196.46" x2="256" y2="196.46" stroke="#7a96f5" stroke-width="2.2" />
<text x="289.5" y="200.06" font-size="10.2" text-anchor="end" fill="#111"  stroke="#111" stroke-width="0.12">18.7%</text>
<line x1="236.7" y1="208.02" x2="256" y2="208.02" stroke="#70f4f8" stroke-width="2.2" />
<text x="289.5" y="211.62" font-size="10.2" text-anchor="end" fill="#111"  stroke="#111" stroke-width="0.12">16.9%</text>
<line x1="236.7" y1="219.58" x2="256" y2="219.58" stroke="#3aee0a" stroke-width="2.2" />
<text x="289.5" y="223.18" font-size="10.2" text-anchor="end" fill="#111"  stroke="#111" stroke-width="0.12">11.7%</text>
<line x1="236.7" y1="231.14" x2="256" y2="231.14" stroke="#ecb848" stroke-width="2.2" />
<text x="289.5" y="234.74" font-size="10.2" text-anchor="end" fill="#111"  stroke="#111" stroke-width="0.12">6.4%</text>
<line x1="236.7" y1="242.7" x2="256" y2="242.7" stroke="#f06d78" stroke-width="2.2" />
<text x="289.5" y="246.3" font-size="10.2" text-anchor="end" fill="#111"  stroke="#111" stroke-width="0.12">1.1%</text>
<line x1="49.2" y1="575.25" x2="306.4" y2="575.25" stroke="#444" stroke-width="1.0" />
<polyline points="62.06,511 124.02,399.87 185.98,367.92 246.78,409.25 267.82,509.27 295.88,570.04" fill="none" stroke="#ff2a14" stroke-width="1.6" stroke-linejoin="round" />
<circle cx="62.06" cy="511" r="3.3" fill="#ff2a14" />
<circle cx="124.02" cy="399.87" r="3.3" fill="#ff2a14" />
<circle cx="185.98" cy="367.92" r="3.3" fill="#ff2a14" />
<circle cx="246.78" cy="409.25" r="3.3" fill="#ff2a14" />
<circle cx="267.82" cy="509.27" r="3.3" fill="#ff2a14" />
<circle cx="295.88" cy="570.04" r="3.3" fill="#ff2a14" />
<polyline points="62.06,509.61 124.02,399.52 185.98,367.57 246.78,405.43 267.82,504.06 295.88,569.35" fill="none" stroke="#eca838" stroke-width="1.6" stroke-linejoin="round" />
<circle cx="62.06" cy="509.61" r="3.3" fill="#eca838" />
<circle cx="124.02" cy="399.52" r="3.3" fill="#eca838" />
<circle cx="185.98" cy="367.57" r="3.3" fill="#eca838" />
<circle cx="246.78" cy="405.43" r="3.3" fill="#eca838" />
<circle cx="267.82" cy="504.06" r="3.3" fill="#eca838" />
<circle cx="295.88" cy="569.35" r="3.3" fill="#eca838" />
<polyline points="62.06,504.75 124.02,396.4 185.98,364.1 246.78,400.22 267.82,495.38 295.88,567.27" fill="none" stroke="#c8d838" stroke-width="1.6" stroke-linejoin="round" />
<circle cx="62.06" cy="504.75" r="3.3" fill="#c8d838" />
<circle cx="124.02" cy="396.4" r="3.3" fill="#c8d838" />
<circle cx="185.98" cy="364.1" r="3.3" fill="#c8d838" />
<circle cx="246.78" cy="400.22" r="3.3" fill="#c8d838" />
<circle cx="267.82" cy="495.38" r="3.3" fill="#c8d838" />
<circle cx="295.88" cy="567.27" r="3.3" fill="#c8d838" />
<polyline points="62.06,498.85 124.02,392.58 185.98,360.28 246.78,394.31 267.82,485.65 295.88,564.84" fill="none" stroke="#38a828" stroke-width="1.6" stroke-linejoin="round" />
<circle cx="62.06" cy="498.85" r="3.3" fill="#38a828" />
<circle cx="124.02" cy="392.58" r="3.3" fill="#38a828" />
<circle cx="185.98" cy="360.28" r="3.3" fill="#38a828" />
<circle cx="246.78" cy="394.31" r="3.3" fill="#38a828" />
<circle cx="267.82" cy="485.65" r="3.3" fill="#38a828" />
<circle cx="295.88" cy="564.84" r="3.3" fill="#38a828" />
<polyline points="62.06,490.86 124.02,387.71 185.98,356.46 246.78,389.1 267.82,477.32 295.88,562.4" fill="none" stroke="#1414ff" stroke-width="1.6" stroke-linejoin="round" />
<circle cx="62.06" cy="490.86" r="3.3" fill="#1414ff" />
<circle cx="124.02" cy="387.71" r="3.3" fill="#1414ff" />
<circle cx="185.98" cy="356.46" r="3.3" fill="#1414ff" />
<circle cx="246.78" cy="389.1" r="3.3" fill="#1414ff" />
<circle cx="267.82" cy="477.32" r="3.3" fill="#1414ff" />
<circle cx="295.88" cy="562.4" r="3.3" fill="#1414ff" />
<polyline points="62.06,481.83 124.02,382.85 185.98,352.64 246.78,384.59 267.82,471.06 295.88,561.01" fill="none" stroke="#1c10b0" stroke-width="1.6" stroke-linejoin="round" />
<circle cx="62.06" cy="481.83" r="3.3" fill="#1c10b0" />
<circle cx="124.02" cy="382.85" r="3.3" fill="#1c10b0" />
<circle cx="185.98" cy="352.64" r="3.3" fill="#1c10b0" />
<circle cx="246.78" cy="384.59" r="3.3" fill="#1c10b0" />
<circle cx="267.82" cy="471.06" r="3.3" fill="#1c10b0" />
<circle cx="295.88" cy="561.01" r="3.3" fill="#1c10b0" />
<polyline points="62.06,471.76 124.02,376.6 185.98,348.47 246.78,380.42 267.82,466.2 295.88,559.63" fill="none" stroke="#8a10ff" stroke-width="1.6" stroke-linejoin="round" />
<circle cx="62.06" cy="471.76" r="3.3" fill="#8a10ff" />
<circle cx="124.02" cy="376.6" r="3.3" fill="#8a10ff" />
<circle cx="185.98" cy="348.47" r="3.3" fill="#8a10ff" />
<circle cx="246.78" cy="380.42" r="3.3" fill="#8a10ff" />
<circle cx="267.82" cy="466.2" r="3.3" fill="#8a10ff" />
<circle cx="295.88" cy="559.63" r="3.3" fill="#8a10ff" />
<line x1="48.27" y1="325" x2="307.05" y2="325" stroke="#1a1a1a" stroke-width="1.45" />
<line x1="48.27" y1="582.5" x2="307.05" y2="582.5" stroke="#1a1a1a" stroke-width="1.1" />
<line x1="49" y1="325" x2="49" y2="582.5" stroke="#1a1a1a" stroke-width="1.45" />
<line x1="306.5" y1="325" x2="306.5" y2="582.5" stroke="#1a1a1a" stroke-width="1.1" />
<line x1="60.89" y1="582.2" x2="60.89" y2="579" stroke="#1a1a1a" stroke-width="1.1" />
<line x1="60.89" y1="325.2" x2="60.89" y2="328.4" stroke="#1a1a1a" stroke-width="1.1" />
<line x1="72.58" y1="582.2" x2="72.58" y2="579" stroke="#1a1a1a" stroke-width="1.1" />
<line x1="72.58" y1="325.2" x2="72.58" y2="328.4" stroke="#1a1a1a" stroke-width="1.1" />
<line x1="84.27" y1="582.2" x2="84.27" y2="579" stroke="#1a1a1a" stroke-width="1.1" />
<line x1="84.27" y1="325.2" x2="84.27" y2="328.4" stroke="#1a1a1a" stroke-width="1.1" />
<line x1="95.96" y1="582.2" x2="95.96" y2="579" stroke="#1a1a1a" stroke-width="1.1" />
<line x1="95.96" y1="325.2" x2="95.96" y2="328.4" stroke="#1a1a1a" stroke-width="1.1" />
<line x1="119.35" y1="582.2" x2="119.35" y2="579" stroke="#1a1a1a" stroke-width="1.1" />
<line x1="119.35" y1="325.2" x2="119.35" y2="328.4" stroke="#1a1a1a" stroke-width="1.1" />
<line x1="131.04" y1="582.2" x2="131.04" y2="579" stroke="#1a1a1a" stroke-width="1.1" />
<line x1="131.04" y1="325.2" x2="131.04" y2="328.4" stroke="#1a1a1a" stroke-width="1.1" />
<line x1="142.73" y1="582.2" x2="142.73" y2="579" stroke="#1a1a1a" stroke-width="1.1" />
<line x1="142.73" y1="325.2" x2="142.73" y2="328.4" stroke="#1a1a1a" stroke-width="1.1" />
<line x1="154.42" y1="582.2" x2="154.42" y2="579" stroke="#1a1a1a" stroke-width="1.1" />
<line x1="154.42" y1="325.2" x2="154.42" y2="328.4" stroke="#1a1a1a" stroke-width="1.1" />
<line x1="177.8" y1="582.2" x2="177.8" y2="579" stroke="#1a1a1a" stroke-width="1.1" />
<line x1="177.8" y1="325.2" x2="177.8" y2="328.4" stroke="#1a1a1a" stroke-width="1.1" />
<line x1="189.49" y1="582.2" x2="189.49" y2="579" stroke="#1a1a1a" stroke-width="1.1" />
<line x1="189.49" y1="325.2" x2="189.49" y2="328.4" stroke="#1a1a1a" stroke-width="1.1" />
<line x1="201.18" y1="582.2" x2="201.18" y2="579" stroke="#1a1a1a" stroke-width="1.1" />
<line x1="201.18" y1="325.2" x2="201.18" y2="328.4" stroke="#1a1a1a" stroke-width="1.1" />
<line x1="212.87" y1="582.2" x2="212.87" y2="579" stroke="#1a1a1a" stroke-width="1.1" />
<line x1="212.87" y1="325.2" x2="212.87" y2="328.4" stroke="#1a1a1a" stroke-width="1.1" />
<line x1="236.25" y1="582.2" x2="236.25" y2="579" stroke="#1a1a1a" stroke-width="1.1" />
<line x1="236.25" y1="325.2" x2="236.25" y2="328.4" stroke="#1a1a1a" stroke-width="1.1" />
<line x1="247.95" y1="582.2" x2="247.95" y2="579" stroke="#1a1a1a" stroke-width="1.1" />
<line x1="247.95" y1="325.2" x2="247.95" y2="328.4" stroke="#1a1a1a" stroke-width="1.1" />
<line x1="259.64" y1="582.2" x2="259.64" y2="579" stroke="#1a1a1a" stroke-width="1.1" />
<line x1="259.64" y1="325.2" x2="259.64" y2="328.4" stroke="#1a1a1a" stroke-width="1.1" />
<line x1="271.33" y1="582.2" x2="271.33" y2="579" stroke="#1a1a1a" stroke-width="1.1" />
<line x1="271.33" y1="325.2" x2="271.33" y2="328.4" stroke="#1a1a1a" stroke-width="1.1" />
<line x1="294.71" y1="582.2" x2="294.71" y2="579" stroke="#1a1a1a" stroke-width="1.1" />
<line x1="294.71" y1="325.2" x2="294.71" y2="328.4" stroke="#1a1a1a" stroke-width="1.1" />
<line x1="306.4" y1="582.2" x2="306.4" y2="579" stroke="#1a1a1a" stroke-width="1.1" />
<line x1="306.4" y1="325.2" x2="306.4" y2="328.4" stroke="#1a1a1a" stroke-width="1.1" />
<line x1="49.2" y1="582.2" x2="49.2" y2="576.3" stroke="#1a1a1a" stroke-width="1.1" />
<line x1="49.2" y1="325.2" x2="49.2" y2="331.1" stroke="#1a1a1a" stroke-width="1.1" />
<line x1="107.65" y1="582.2" x2="107.65" y2="576.3" stroke="#1a1a1a" stroke-width="1.1" />
<line x1="107.65" y1="325.2" x2="107.65" y2="331.1" stroke="#1a1a1a" stroke-width="1.1" />
<line x1="166.11" y1="582.2" x2="166.11" y2="576.3" stroke="#1a1a1a" stroke-width="1.1" />
<line x1="166.11" y1="325.2" x2="166.11" y2="331.1" stroke="#1a1a1a" stroke-width="1.1" />
<line x1="224.56" y1="582.2" x2="224.56" y2="576.3" stroke="#1a1a1a" stroke-width="1.1" />
<line x1="224.56" y1="325.2" x2="224.56" y2="331.1" stroke="#1a1a1a" stroke-width="1.1" />
<line x1="283.02" y1="582.2" x2="283.02" y2="576.3" stroke="#1a1a1a" stroke-width="1.1" />
<line x1="283.02" y1="325.2" x2="283.02" y2="331.1" stroke="#1a1a1a" stroke-width="1.1" />
<line x1="49.2" y1="582.2" x2="52.4" y2="582.2" stroke="#1a1a1a" stroke-width="1.1" />
<line x1="306.4" y1="582.2" x2="303.2" y2="582.2" stroke="#1a1a1a" stroke-width="1.1" />
<line x1="49.2" y1="568.31" x2="52.4" y2="568.31" stroke="#1a1a1a" stroke-width="1.1" />
<line x1="306.4" y1="568.31" x2="303.2" y2="568.31" stroke="#1a1a1a" stroke-width="1.1" />
<line x1="49.2" y1="561.36" x2="52.4" y2="561.36" stroke="#1a1a1a" stroke-width="1.1" />
<line x1="306.4" y1="561.36" x2="303.2" y2="561.36" stroke="#1a1a1a" stroke-width="1.1" />
<line x1="49.2" y1="554.42" x2="52.4" y2="554.42" stroke="#1a1a1a" stroke-width="1.1" />
<line x1="306.4" y1="554.42" x2="303.2" y2="554.42" stroke="#1a1a1a" stroke-width="1.1" />
<line x1="49.2" y1="547.47" x2="52.4" y2="547.47" stroke="#1a1a1a" stroke-width="1.1" />
<line x1="306.4" y1="547.47" x2="303.2" y2="547.47" stroke="#1a1a1a" stroke-width="1.1" />
<line x1="49.2" y1="533.58" x2="52.4" y2="533.58" stroke="#1a1a1a" stroke-width="1.1" />
<line x1="306.4" y1="533.58" x2="303.2" y2="533.58" stroke="#1a1a1a" stroke-width="1.1" />
<line x1="49.2" y1="526.63" x2="52.4" y2="526.63" stroke="#1a1a1a" stroke-width="1.1" />
<line x1="306.4" y1="526.63" x2="303.2" y2="526.63" stroke="#1a1a1a" stroke-width="1.1" />
<line x1="49.2" y1="519.69" x2="52.4" y2="519.69" stroke="#1a1a1a" stroke-width="1.1" />
<line x1="306.4" y1="519.69" x2="303.2" y2="519.69" stroke="#1a1a1a" stroke-width="1.1" />
<line x1="49.2" y1="512.74" x2="52.4" y2="512.74" stroke="#1a1a1a" stroke-width="1.1" />
<line x1="306.4" y1="512.74" x2="303.2" y2="512.74" stroke="#1a1a1a" stroke-width="1.1" />
<line x1="49.2" y1="498.85" x2="52.4" y2="498.85" stroke="#1a1a1a" stroke-width="1.1" />
<line x1="306.4" y1="498.85" x2="303.2" y2="498.85" stroke="#1a1a1a" stroke-width="1.1" />
<line x1="49.2" y1="491.9" x2="52.4" y2="491.9" stroke="#1a1a1a" stroke-width="1.1" />
<line x1="306.4" y1="491.9" x2="303.2" y2="491.9" stroke="#1a1a1a" stroke-width="1.1" />
<line x1="49.2" y1="484.96" x2="52.4" y2="484.96" stroke="#1a1a1a" stroke-width="1.1" />
<line x1="306.4" y1="484.96" x2="303.2" y2="484.96" stroke="#1a1a1a" stroke-width="1.1" />
<line x1="49.2" y1="478.01" x2="52.4" y2="478.01" stroke="#1a1a1a" stroke-width="1.1" />
<line x1="306.4" y1="478.01" x2="303.2" y2="478.01" stroke="#1a1a1a" stroke-width="1.1" />
<line x1="49.2" y1="464.12" x2="52.4" y2="464.12" stroke="#1a1a1a" stroke-width="1.1" />
<line x1="306.4" y1="464.12" x2="303.2" y2="464.12" stroke="#1a1a1a" stroke-width="1.1" />
<line x1="49.2" y1="457.17" x2="52.4" y2="457.17" stroke="#1a1a1a" stroke-width="1.1" />
<line x1="306.4" y1="457.17" x2="303.2" y2="457.17" stroke="#1a1a1a" stroke-width="1.1" />
<line x1="49.2" y1="450.23" x2="52.4" y2="450.23" stroke="#1a1a1a" stroke-width="1.1" />
<line x1="306.4" y1="450.23" x2="303.2" y2="450.23" stroke="#1a1a1a" stroke-width="1.1" />
<line x1="49.2" y1="443.28" x2="52.4" y2="443.28" stroke="#1a1a1a" stroke-width="1.1" />
<line x1="306.4" y1="443.28" x2="303.2" y2="443.28" stroke="#1a1a1a" stroke-width="1.1" />
<line x1="49.2" y1="429.39" x2="52.4" y2="429.39" stroke="#1a1a1a" stroke-width="1.1" />
<line x1="306.4" y1="429.39" x2="303.2" y2="429.39" stroke="#1a1a1a" stroke-width="1.1" />
<line x1="49.2" y1="422.44" x2="52.4" y2="422.44" stroke="#1a1a1a" stroke-width="1.1" />
<line x1="306.4" y1="422.44" x2="303.2" y2="422.44" stroke="#1a1a1a" stroke-width="1.1" />
<line x1="49.2" y1="415.5" x2="52.4" y2="415.5" stroke="#1a1a1a" stroke-width="1.1" />
<line x1="306.4" y1="415.5" x2="303.2" y2="415.5" stroke="#1a1a1a" stroke-width="1.1" />
<line x1="49.2" y1="408.55" x2="52.4" y2="408.55" stroke="#1a1a1a" stroke-width="1.1" />
<line x1="306.4" y1="408.55" x2="303.2" y2="408.55" stroke="#1a1a1a" stroke-width="1.1" />
<line x1="49.2" y1="394.66" x2="52.4" y2="394.66" stroke="#1a1a1a" stroke-width="1.1" />
<line x1="306.4" y1="394.66" x2="303.2" y2="394.66" stroke="#1a1a1a" stroke-width="1.1" />
<line x1="49.2" y1="387.71" x2="52.4" y2="387.71" stroke="#1a1a1a" stroke-width="1.1" />
<line x1="306.4" y1="387.71" x2="303.2" y2="387.71" stroke="#1a1a1a" stroke-width="1.1" />
<line x1="49.2" y1="380.77" x2="52.4" y2="380.77" stroke="#1a1a1a" stroke-width="1.1" />
<line x1="306.4" y1="380.77" x2="303.2" y2="380.77" stroke="#1a1a1a" stroke-width="1.1" />
<line x1="49.2" y1="373.82" x2="52.4" y2="373.82" stroke="#1a1a1a" stroke-width="1.1" />
<line x1="306.4" y1="373.82" x2="303.2" y2="373.82" stroke="#1a1a1a" stroke-width="1.1" />
<line x1="49.2" y1="359.93" x2="52.4" y2="359.93" stroke="#1a1a1a" stroke-width="1.1" />
<line x1="306.4" y1="359.93" x2="303.2" y2="359.93" stroke="#1a1a1a" stroke-width="1.1" />
<line x1="49.2" y1="352.98" x2="52.4" y2="352.98" stroke="#1a1a1a" stroke-width="1.1" />
<line x1="306.4" y1="352.98" x2="303.2" y2="352.98" stroke="#1a1a1a" stroke-width="1.1" />
<line x1="49.2" y1="346.04" x2="52.4" y2="346.04" stroke="#1a1a1a" stroke-width="1.1" />
<line x1="306.4" y1="346.04" x2="303.2" y2="346.04" stroke="#1a1a1a" stroke-width="1.1" />
<line x1="49.2" y1="339.09" x2="52.4" y2="339.09" stroke="#1a1a1a" stroke-width="1.1" />
<line x1="306.4" y1="339.09" x2="303.2" y2="339.09" stroke="#1a1a1a" stroke-width="1.1" />
<line x1="49.2" y1="325.2" x2="52.4" y2="325.2" stroke="#1a1a1a" stroke-width="1.1" />
<line x1="306.4" y1="325.2" x2="303.2" y2="325.2" stroke="#1a1a1a" stroke-width="1.1" />
<line x1="49.2" y1="575.25" x2="55.1" y2="575.25" stroke="#1a1a1a" stroke-width="1.1" />
<line x1="306.4" y1="575.25" x2="300.5" y2="575.25" stroke="#1a1a1a" stroke-width="1.1" />
<line x1="49.2" y1="540.52" x2="55.1" y2="540.52" stroke="#1a1a1a" stroke-width="1.1" />
<line x1="306.4" y1="540.52" x2="300.5" y2="540.52" stroke="#1a1a1a" stroke-width="1.1" />
<line x1="49.2" y1="505.79" x2="55.1" y2="505.79" stroke="#1a1a1a" stroke-width="1.1" />
<line x1="306.4" y1="505.79" x2="300.5" y2="505.79" stroke="#1a1a1a" stroke-width="1.1" />
<line x1="49.2" y1="471.06" x2="55.1" y2="471.06" stroke="#1a1a1a" stroke-width="1.1" />
<line x1="306.4" y1="471.06" x2="300.5" y2="471.06" stroke="#1a1a1a" stroke-width="1.1" />
<line x1="49.2" y1="436.34" x2="55.1" y2="436.34" stroke="#1a1a1a" stroke-width="1.1" />
<line x1="306.4" y1="436.34" x2="300.5" y2="436.34" stroke="#1a1a1a" stroke-width="1.1" />
<line x1="49.2" y1="401.61" x2="55.1" y2="401.61" stroke="#1a1a1a" stroke-width="1.1" />
<line x1="306.4" y1="401.61" x2="300.5" y2="401.61" stroke="#1a1a1a" stroke-width="1.1" />
<line x1="49.2" y1="366.88" x2="55.1" y2="366.88" stroke="#1a1a1a" stroke-width="1.1" />
<line x1="306.4" y1="366.88" x2="300.5" y2="366.88" stroke="#1a1a1a" stroke-width="1.1" />
<line x1="49.2" y1="332.15" x2="55.1" y2="332.15" stroke="#1a1a1a" stroke-width="1.1" />
<line x1="306.4" y1="332.15" x2="300.5" y2="332.15" stroke="#1a1a1a" stroke-width="1.1" />
<text x="49.2" y="598.7" font-size="14.2" text-anchor="middle" fill="#111"  stroke="#111" stroke-width="0.22">0</text>
<text x="107.65" y="598.7" font-size="14.2" text-anchor="middle" fill="#111"  stroke="#111" stroke-width="0.22">5</text>
<text x="166.11" y="598.7" font-size="14.2" text-anchor="middle" fill="#111"  stroke="#111" stroke-width="0.22">10</text>
<text x="224.56" y="598.7" font-size="14.2" text-anchor="middle" fill="#111"  stroke="#111" stroke-width="0.22">15</text>
<text x="283.02" y="598.7" font-size="14.2" text-anchor="middle" fill="#111"  stroke="#111" stroke-width="0.22">20</text>
<text x="45.7" y="580.25" font-size="14.2" text-anchor="end" fill="#111"  stroke="#111" stroke-width="0.22">0.0</text>
<text x="45.7" y="545.52" font-size="14.2" text-anchor="end" fill="#111"  stroke="#111" stroke-width="0.22">1.0</text>
<text x="45.7" y="510.79" font-size="14.2" text-anchor="end" fill="#111"  stroke="#111" stroke-width="0.22">2.0</text>
<text x="45.7" y="476.06" font-size="14.2" text-anchor="end" fill="#111"  stroke="#111" stroke-width="0.22">3.0</text>
<text x="45.7" y="441.34" font-size="14.2" text-anchor="end" fill="#111"  stroke="#111" stroke-width="0.22">4.0</text>
<text x="45.7" y="406.61" font-size="14.2" text-anchor="end" fill="#111"  stroke="#111" stroke-width="0.22">5.0</text>
<text x="45.7" y="371.88" font-size="14.2" text-anchor="end" fill="#111"  stroke="#111" stroke-width="0.22">6.0</text>
<text x="45.7" y="337.15" font-size="14.2" text-anchor="end" fill="#111"  stroke="#111" stroke-width="0.22">7.0</text>
<rect x="193.5" y="482.5" width="55" height="84" fill="#fff" stroke="#4a4a4a" stroke-width="1.1"/>
<line x1="196.2" y1="489.8" x2="215.7" y2="489.8" stroke="#8a10ff" stroke-width="1.6" />
<circle cx="205.8" cy="489.8" r="3.3" fill="#8a10ff" />
<text x="246.7" y="493.4" font-size="10.2" text-anchor="end" fill="#111"  stroke="#111" stroke-width="0.12">300 K</text>
<line x1="196.2" y1="501.43" x2="215.7" y2="501.43" stroke="#1c10b0" stroke-width="1.6" />
<circle cx="205.8" cy="501.43" r="3.3" fill="#1c10b0" />
<text x="246.7" y="505.03" font-size="10.2" text-anchor="end" fill="#111"  stroke="#111" stroke-width="0.12">250 K</text>
<line x1="196.2" y1="513.06" x2="215.7" y2="513.06" stroke="#1414ff" stroke-width="1.6" />
<circle cx="205.8" cy="513.06" r="3.3" fill="#1414ff" />
<text x="246.7" y="516.66" font-size="10.2" text-anchor="end" fill="#111"  stroke="#111" stroke-width="0.12">200 K</text>
<line x1="196.2" y1="524.69" x2="215.7" y2="524.69" stroke="#38a828" stroke-width="1.6" />
<circle cx="205.8" cy="524.69" r="3.3" fill="#38a828" />
<text x="246.7" y="528.29" font-size="10.2" text-anchor="end" fill="#111"  stroke="#111" stroke-width="0.12">150 K</text>
<line x1="196.2" y1="536.32" x2="215.7" y2="536.32" stroke="#c8d838" stroke-width="1.6" />
<circle cx="205.8" cy="536.32" r="3.3" fill="#c8d838" />
<text x="246.7" y="539.92" font-size="10.2" text-anchor="end" fill="#111"  stroke="#111" stroke-width="0.12">100 K</text>
<line x1="196.2" y1="547.95" x2="215.7" y2="547.95" stroke="#eca838" stroke-width="1.6" />
<circle cx="205.8" cy="547.95" r="3.3" fill="#eca838" />
<text x="246.7" y="551.55" font-size="10.2" text-anchor="end" fill="#111"  stroke="#111" stroke-width="0.12">50 K</text>
<line x1="196.2" y1="559.58" x2="215.7" y2="559.58" stroke="#ff2a14" stroke-width="1.6" />
<circle cx="205.8" cy="559.58" r="3.3" fill="#ff2a14" />
<text x="246.7" y="563.18" font-size="10.2" text-anchor="end" fill="#111"  stroke="#111" stroke-width="0.12">10 K</text>
<text x="5" y="339.5" font-size="20.5" text-anchor="start" fill="#000" stroke="#000" stroke-width="0.55">b</text>
<text transform="translate(15.0,454) rotate(-90)" font-size="15.5" text-anchor="middle" fill="#111" stroke="#111" stroke-width="0.25"><tspan font-style="italic">ρ</tspan><tspan font-size="10.5" dy="3.5" font-style="italic">yx</tspan><tspan font-size="10.5" dx="-10" dy="-10" font-style="italic">A</tspan><tspan dy="6.5" dx="2"> (µΩ cm)</tspan></text>
<text x="177.8" y="621" font-size="15.5" text-anchor="middle" fill="#111"  stroke="#111" stroke-width="0.27">Ir composition (at.%)</text>
<polyline points="62.06,801.59 124.02,730.33 185.98,731.18 246.78,737.19 267.82,789.86 295.88,821.92" fill="none" stroke="#ff2a14" stroke-width="1.6" stroke-linejoin="round" />
<circle cx="62.06" cy="801.59" r="3.3" fill="#ff2a14" />
<circle cx="124.02" cy="730.33" r="3.3" fill="#ff2a14" />
<circle cx="185.98" cy="731.18" r="3.3" fill="#ff2a14" />
<circle cx="246.78" cy="737.19" r="3.3" fill="#ff2a14" />
<circle cx="267.82" cy="789.86" r="3.3" fill="#ff2a14" />
<circle cx="295.88" cy="821.92" r="3.3" fill="#ff2a14" />
<polyline points="62.06,800.45 124.02,730.61 185.98,730.04 246.78,729.18 267.82,780.99 295.88,813.04" fill="none" stroke="#eca838" stroke-width="1.6" stroke-linejoin="round" />
<circle cx="62.06" cy="800.45" r="3.3" fill="#eca838" />
<circle cx="124.02" cy="730.61" r="3.3" fill="#eca838" />
<circle cx="185.98" cy="730.04" r="3.3" fill="#eca838" />
<circle cx="246.78" cy="729.18" r="3.3" fill="#eca838" />
<circle cx="267.82" cy="780.99" r="3.3" fill="#eca838" />
<circle cx="295.88" cy="813.04" r="3.3" fill="#eca838" />
<polyline points="62.06,795.58 124.02,726.03 185.98,724.89 246.78,715.73 267.82,764.1 295.88,793.58" fill="none" stroke="#c8d838" stroke-width="1.6" stroke-linejoin="round" />
<circle cx="62.06" cy="795.58" r="3.3" fill="#c8d838" />
<circle cx="124.02" cy="726.03" r="3.3" fill="#c8d838" />
<circle cx="185.98" cy="724.89" r="3.3" fill="#c8d838" />
<circle cx="246.78" cy="715.73" r="3.3" fill="#c8d838" />
<circle cx="267.82" cy="764.1" r="3.3" fill="#c8d838" />
<circle cx="295.88" cy="793.58" r="3.3" fill="#c8d838" />
<polyline points="62.06,788.71 124.02,720.02 185.98,718.3 246.78,703.42 267.82,746.35 295.88,772.11" fill="none" stroke="#38a828" stroke-width="1.6" stroke-linejoin="round" />
<circle cx="62.06" cy="788.71" r="3.3" fill="#38a828" />
<circle cx="124.02" cy="720.02" r="3.3" fill="#38a828" />
<circle cx="185.98" cy="718.3" r="3.3" fill="#38a828" />
<circle cx="246.78" cy="703.42" r="3.3" fill="#38a828" />
<circle cx="267.82" cy="746.35" r="3.3" fill="#38a828" />
<circle cx="295.88" cy="772.11" r="3.3" fill="#38a828" />
<polyline points="62.06,780.7 124.02,713.15 185.98,711.72 246.78,692.26 267.82,729.75 295.88,750.93" fill="none" stroke="#1414ff" stroke-width="1.6" stroke-linejoin="round" />
<circle cx="62.06" cy="780.7" r="3.3" fill="#1414ff" />
<circle cx="124.02" cy="713.15" r="3.3" fill="#1414ff" />
<circle cx="185.98" cy="711.72" r="3.3" fill="#1414ff" />
<circle cx="246.78" cy="692.26" r="3.3" fill="#1414ff" />
<circle cx="267.82" cy="729.75" r="3.3" fill="#1414ff" />
<circle cx="295.88" cy="750.93" r="3.3" fill="#1414ff" />
<polyline points="62.06,771.26 124.02,706 185.98,705.42 246.78,682.24 267.82,714.58 295.88,731.18" fill="none" stroke="#1c10b0" stroke-width="1.6" stroke-linejoin="round" />
<circle cx="62.06" cy="771.26" r="3.3" fill="#1c10b0" />
<circle cx="124.02" cy="706" r="3.3" fill="#1c10b0" />
<circle cx="185.98" cy="705.42" r="3.3" fill="#1c10b0" />
<circle cx="246.78" cy="682.24" r="3.3" fill="#1c10b0" />
<circle cx="267.82" cy="714.58" r="3.3" fill="#1c10b0" />
<circle cx="295.88" cy="731.18" r="3.3" fill="#1c10b0" />
<polyline points="62.06,760.95 124.02,698.27 185.98,698.84 246.78,672.51 267.82,700.56 295.88,712.87" fill="none" stroke="#8a10ff" stroke-width="1.6" stroke-linejoin="round" />
<circle cx="62.06" cy="760.95" r="3.3" fill="#8a10ff" />
<circle cx="124.02" cy="698.27" r="3.3" fill="#8a10ff" />
<circle cx="185.98" cy="698.84" r="3.3" fill="#8a10ff" />
<circle cx="246.78" cy="672.51" r="3.3" fill="#8a10ff" />
<circle cx="267.82" cy="700.56" r="3.3" fill="#8a10ff" />
<circle cx="295.88" cy="712.87" r="3.3" fill="#8a10ff" />
<line x1="48.27" y1="643.5" x2="307.05" y2="643.5" stroke="#1a1a1a" stroke-width="1.1" />
<line x1="48.27" y1="901" x2="307.05" y2="901" stroke="#1a1a1a" stroke-width="1.45" />
<line x1="49" y1="643.5" x2="49" y2="901" stroke="#1a1a1a" stroke-width="1.45" />
<line x1="306.5" y1="643.5" x2="306.5" y2="901" stroke="#1a1a1a" stroke-width="1.1" />
<line x1="60.89" y1="901.2" x2="60.89" y2="898" stroke="#1a1a1a" stroke-width="1.1" />
<line x1="60.89" y1="643.6" x2="60.89" y2="646.8" stroke="#1a1a1a" stroke-width="1.1" />
<line x1="72.58" y1="901.2" x2="72.58" y2="898" stroke="#1a1a1a" stroke-width="1.1" />
<line x1="72.58" y1="643.6" x2="72.58" y2="646.8" stroke="#1a1a1a" stroke-width="1.1" />
<line x1="84.27" y1="901.2" x2="84.27" y2="898" stroke="#1a1a1a" stroke-width="1.1" />
<line x1="84.27" y1="643.6" x2="84.27" y2="646.8" stroke="#1a1a1a" stroke-width="1.1" />
<line x1="95.96" y1="901.2" x2="95.96" y2="898" stroke="#1a1a1a" stroke-width="1.1" />
<line x1="95.96" y1="643.6" x2="95.96" y2="646.8" stroke="#1a1a1a" stroke-width="1.1" />
<line x1="119.35" y1="901.2" x2="119.35" y2="898" stroke="#1a1a1a" stroke-width="1.1" />
<line x1="119.35" y1="643.6" x2="119.35" y2="646.8" stroke="#1a1a1a" stroke-width="1.1" />
<line x1="131.04" y1="901.2" x2="131.04" y2="898" stroke="#1a1a1a" stroke-width="1.1" />
<line x1="131.04" y1="643.6" x2="131.04" y2="646.8" stroke="#1a1a1a" stroke-width="1.1" />
<line x1="142.73" y1="901.2" x2="142.73" y2="898" stroke="#1a1a1a" stroke-width="1.1" />
<line x1="142.73" y1="643.6" x2="142.73" y2="646.8" stroke="#1a1a1a" stroke-width="1.1" />
<line x1="154.42" y1="901.2" x2="154.42" y2="898" stroke="#1a1a1a" stroke-width="1.1" />
<line x1="154.42" y1="643.6" x2="154.42" y2="646.8" stroke="#1a1a1a" stroke-width="1.1" />
<line x1="177.8" y1="901.2" x2="177.8" y2="898" stroke="#1a1a1a" stroke-width="1.1" />
<line x1="177.8" y1="643.6" x2="177.8" y2="646.8" stroke="#1a1a1a" stroke-width="1.1" />
<line x1="189.49" y1="901.2" x2="189.49" y2="898" stroke="#1a1a1a" stroke-width="1.1" />
<line x1="189.49" y1="643.6" x2="189.49" y2="646.8" stroke="#1a1a1a" stroke-width="1.1" />
<line x1="201.18" y1="901.2" x2="201.18" y2="898" stroke="#1a1a1a" stroke-width="1.1" />
<line x1="201.18" y1="643.6" x2="201.18" y2="646.8" stroke="#1a1a1a" stroke-width="1.1" />
<line x1="212.87" y1="901.2" x2="212.87" y2="898" stroke="#1a1a1a" stroke-width="1.1" />
<line x1="212.87" y1="643.6" x2="212.87" y2="646.8" stroke="#1a1a1a" stroke-width="1.1" />
<line x1="236.25" y1="901.2" x2="236.25" y2="898" stroke="#1a1a1a" stroke-width="1.1" />
<line x1="236.25" y1="643.6" x2="236.25" y2="646.8" stroke="#1a1a1a" stroke-width="1.1" />
<line x1="247.95" y1="901.2" x2="247.95" y2="898" stroke="#1a1a1a" stroke-width="1.1" />
<line x1="247.95" y1="643.6" x2="247.95" y2="646.8" stroke="#1a1a1a" stroke-width="1.1" />
<line x1="259.64" y1="901.2" x2="259.64" y2="898" stroke="#1a1a1a" stroke-width="1.1" />
<line x1="259.64" y1="643.6" x2="259.64" y2="646.8" stroke="#1a1a1a" stroke-width="1.1" />
<line x1="271.33" y1="901.2" x2="271.33" y2="898" stroke="#1a1a1a" stroke-width="1.1" />
<line x1="271.33" y1="643.6" x2="271.33" y2="646.8" stroke="#1a1a1a" stroke-width="1.1" />
<line x1="294.71" y1="901.2" x2="294.71" y2="898" stroke="#1a1a1a" stroke-width="1.1" />
<line x1="294.71" y1="643.6" x2="294.71" y2="646.8" stroke="#1a1a1a" stroke-width="1.1" />
<line x1="306.4" y1="901.2" x2="306.4" y2="898" stroke="#1a1a1a" stroke-width="1.1" />
<line x1="306.4" y1="643.6" x2="306.4" y2="646.8" stroke="#1a1a1a" stroke-width="1.1" />
<line x1="49.2" y1="901.2" x2="49.2" y2="895.3" stroke="#1a1a1a" stroke-width="1.1" />
<line x1="49.2" y1="643.6" x2="49.2" y2="649.5" stroke="#1a1a1a" stroke-width="1.1" />
<line x1="107.65" y1="901.2" x2="107.65" y2="895.3" stroke="#1a1a1a" stroke-width="1.1" />
<line x1="107.65" y1="643.6" x2="107.65" y2="649.5" stroke="#1a1a1a" stroke-width="1.1" />
<line x1="166.11" y1="901.2" x2="166.11" y2="895.3" stroke="#1a1a1a" stroke-width="1.1" />
<line x1="166.11" y1="643.6" x2="166.11" y2="649.5" stroke="#1a1a1a" stroke-width="1.1" />
<line x1="224.56" y1="901.2" x2="224.56" y2="895.3" stroke="#1a1a1a" stroke-width="1.1" />
<line x1="224.56" y1="643.6" x2="224.56" y2="649.5" stroke="#1a1a1a" stroke-width="1.1" />
<line x1="283.02" y1="901.2" x2="283.02" y2="895.3" stroke="#1a1a1a" stroke-width="1.1" />
<line x1="283.02" y1="643.6" x2="283.02" y2="649.5" stroke="#1a1a1a" stroke-width="1.1" />
<line x1="49.2" y1="886.89" x2="52.4" y2="886.89" stroke="#1a1a1a" stroke-width="1.1" />
<line x1="306.4" y1="886.89" x2="303.2" y2="886.89" stroke="#1a1a1a" stroke-width="1.1" />
<line x1="49.2" y1="858.27" x2="52.4" y2="858.27" stroke="#1a1a1a" stroke-width="1.1" />
<line x1="306.4" y1="858.27" x2="303.2" y2="858.27" stroke="#1a1a1a" stroke-width="1.1" />
<line x1="49.2" y1="829.64" x2="52.4" y2="829.64" stroke="#1a1a1a" stroke-width="1.1" />
<line x1="306.4" y1="829.64" x2="303.2" y2="829.64" stroke="#1a1a1a" stroke-width="1.1" />
<line x1="49.2" y1="801.02" x2="52.4" y2="801.02" stroke="#1a1a1a" stroke-width="1.1" />
<line x1="306.4" y1="801.02" x2="303.2" y2="801.02" stroke="#1a1a1a" stroke-width="1.1" />
<line x1="49.2" y1="772.4" x2="52.4" y2="772.4" stroke="#1a1a1a" stroke-width="1.1" />
<line x1="306.4" y1="772.4" x2="303.2" y2="772.4" stroke="#1a1a1a" stroke-width="1.1" />
<line x1="49.2" y1="743.78" x2="52.4" y2="743.78" stroke="#1a1a1a" stroke-width="1.1" />
<line x1="306.4" y1="743.78" x2="303.2" y2="743.78" stroke="#1a1a1a" stroke-width="1.1" />
<line x1="49.2" y1="715.16" x2="52.4" y2="715.16" stroke="#1a1a1a" stroke-width="1.1" />
<line x1="306.4" y1="715.16" x2="303.2" y2="715.16" stroke="#1a1a1a" stroke-width="1.1" />
<line x1="49.2" y1="686.53" x2="52.4" y2="686.53" stroke="#1a1a1a" stroke-width="1.1" />
<line x1="306.4" y1="686.53" x2="303.2" y2="686.53" stroke="#1a1a1a" stroke-width="1.1" />
<line x1="49.2" y1="657.91" x2="52.4" y2="657.91" stroke="#1a1a1a" stroke-width="1.1" />
<line x1="306.4" y1="657.91" x2="303.2" y2="657.91" stroke="#1a1a1a" stroke-width="1.1" />
<line x1="49.2" y1="901.2" x2="55.1" y2="901.2" stroke="#1a1a1a" stroke-width="1.1" />
<line x1="306.4" y1="901.2" x2="300.5" y2="901.2" stroke="#1a1a1a" stroke-width="1.1" />
<line x1="49.2" y1="872.58" x2="55.1" y2="872.58" stroke="#1a1a1a" stroke-width="1.1" />
<line x1="306.4" y1="872.58" x2="300.5" y2="872.58" stroke="#1a1a1a" stroke-width="1.1" />
<line x1="49.2" y1="843.96" x2="55.1" y2="843.96" stroke="#1a1a1a" stroke-width="1.1" />
<line x1="306.4" y1="843.96" x2="300.5" y2="843.96" stroke="#1a1a1a" stroke-width="1.1" />
<line x1="49.2" y1="815.33" x2="55.1" y2="815.33" stroke="#1a1a1a" stroke-width="1.1" />
<line x1="306.4" y1="815.33" x2="300.5" y2="815.33" stroke="#1a1a1a" stroke-width="1.1" />
<line x1="49.2" y1="786.71" x2="55.1" y2="786.71" stroke="#1a1a1a" stroke-width="1.1" />
<line x1="306.4" y1="786.71" x2="300.5" y2="786.71" stroke="#1a1a1a" stroke-width="1.1" />
<line x1="49.2" y1="758.09" x2="55.1" y2="758.09" stroke="#1a1a1a" stroke-width="1.1" />
<line x1="306.4" y1="758.09" x2="300.5" y2="758.09" stroke="#1a1a1a" stroke-width="1.1" />
<line x1="49.2" y1="729.47" x2="55.1" y2="729.47" stroke="#1a1a1a" stroke-width="1.1" />
<line x1="306.4" y1="729.47" x2="300.5" y2="729.47" stroke="#1a1a1a" stroke-width="1.1" />
<line x1="49.2" y1="700.84" x2="55.1" y2="700.84" stroke="#1a1a1a" stroke-width="1.1" />
<line x1="306.4" y1="700.84" x2="300.5" y2="700.84" stroke="#1a1a1a" stroke-width="1.1" />
<line x1="49.2" y1="672.22" x2="55.1" y2="672.22" stroke="#1a1a1a" stroke-width="1.1" />
<line x1="306.4" y1="672.22" x2="300.5" y2="672.22" stroke="#1a1a1a" stroke-width="1.1" />
<line x1="49.2" y1="643.6" x2="55.1" y2="643.6" stroke="#1a1a1a" stroke-width="1.1" />
<line x1="306.4" y1="643.6" x2="300.5" y2="643.6" stroke="#1a1a1a" stroke-width="1.1" />
<text x="49.2" y="917.7" font-size="14.2" text-anchor="middle" fill="#111"  stroke="#111" stroke-width="0.22">0</text>
<text x="107.65" y="917.7" font-size="14.2" text-anchor="middle" fill="#111"  stroke="#111" stroke-width="0.22">5</text>
<text x="166.11" y="917.7" font-size="14.2" text-anchor="middle" fill="#111"  stroke="#111" stroke-width="0.22">10</text>
<text x="224.56" y="917.7" font-size="14.2" text-anchor="middle" fill="#111"  stroke="#111" stroke-width="0.22">15</text>
<text x="283.02" y="917.7" font-size="14.2" text-anchor="middle" fill="#111"  stroke="#111" stroke-width="0.22">20</text>
<text x="45.7" y="906.2" font-size="14.2" text-anchor="end" fill="#111"  stroke="#111" stroke-width="0.22">0</text>
<text x="45.7" y="877.58" font-size="14.2" text-anchor="end" fill="#111"  stroke="#111" stroke-width="0.22">10</text>
<text x="45.7" y="848.96" font-size="14.2" text-anchor="end" fill="#111"  stroke="#111" stroke-width="0.22">20</text>
<text x="45.7" y="820.33" font-size="14.2" text-anchor="end" fill="#111"  stroke="#111" stroke-width="0.22">30</text>
<text x="45.7" y="791.71" font-size="14.2" text-anchor="end" fill="#111"  stroke="#111" stroke-width="0.22">40</text>
<text x="45.7" y="763.09" font-size="14.2" text-anchor="end" fill="#111"  stroke="#111" stroke-width="0.22">50</text>
<text x="45.7" y="734.47" font-size="14.2" text-anchor="end" fill="#111"  stroke="#111" stroke-width="0.22">60</text>
<text x="45.7" y="705.84" font-size="14.2" text-anchor="end" fill="#111"  stroke="#111" stroke-width="0.22">70</text>
<text x="45.7" y="677.22" font-size="14.2" text-anchor="end" fill="#111"  stroke="#111" stroke-width="0.22">80</text>
<text x="45.7" y="648.6" font-size="14.2" text-anchor="end" fill="#111"  stroke="#111" stroke-width="0.22">90</text>
<rect x="193.5" y="801.5" width="55" height="84" fill="#fff" stroke="#4a4a4a" stroke-width="1.1"/>
<line x1="196.2" y1="808.6" x2="215.7" y2="808.6" stroke="#8a10ff" stroke-width="1.6" />
<circle cx="205.8" cy="808.6" r="3.3" fill="#8a10ff" />
<text x="246.7" y="812.2" font-size="10.2" text-anchor="end" fill="#111"  stroke="#111" stroke-width="0.12">300 K</text>
<line x1="196.2" y1="820.23" x2="215.7" y2="820.23" stroke="#1c10b0" stroke-width="1.6" />
<circle cx="205.8" cy="820.23" r="3.3" fill="#1c10b0" />
<text x="246.7" y="823.83" font-size="10.2" text-anchor="end" fill="#111"  stroke="#111" stroke-width="0.12">250 K</text>
<line x1="196.2" y1="831.86" x2="215.7" y2="831.86" stroke="#1414ff" stroke-width="1.6" />
<circle cx="205.8" cy="831.86" r="3.3" fill="#1414ff" />
<text x="246.7" y="835.46" font-size="10.2" text-anchor="end" fill="#111"  stroke="#111" stroke-width="0.12">200 K</text>
<line x1="196.2" y1="843.49" x2="215.7" y2="843.49" stroke="#38a828" stroke-width="1.6" />
<circle cx="205.8" cy="843.49" r="3.3" fill="#38a828" />
<text x="246.7" y="847.09" font-size="10.2" text-anchor="end" fill="#111"  stroke="#111" stroke-width="0.12">150 K</text>
<line x1="196.2" y1="855.12" x2="215.7" y2="855.12" stroke="#c8d838" stroke-width="1.6" />
<circle cx="205.8" cy="855.12" r="3.3" fill="#c8d838" />
<text x="246.7" y="858.72" font-size="10.2" text-anchor="end" fill="#111"  stroke="#111" stroke-width="0.12">100 K</text>
<line x1="196.2" y1="866.75" x2="215.7" y2="866.75" stroke="#eca838" stroke-width="1.6" />
<circle cx="205.8" cy="866.75" r="3.3" fill="#eca838" />
<text x="246.7" y="870.35" font-size="10.2" text-anchor="end" fill="#111"  stroke="#111" stroke-width="0.12">50 K</text>
<line x1="196.2" y1="878.38" x2="215.7" y2="878.38" stroke="#ff2a14" stroke-width="1.6" />
<circle cx="205.8" cy="878.38" r="3.3" fill="#ff2a14" />
<text x="246.7" y="881.98" font-size="10.2" text-anchor="end" fill="#111"  stroke="#111" stroke-width="0.12">10 K</text>
<text x="5" y="658.4" font-size="20.5" text-anchor="start" fill="#000" stroke="#000" stroke-width="0.55">c</text>
<text transform="translate(15.0,772) rotate(-90)" font-size="15.5" text-anchor="middle" fill="#111" stroke="#111" stroke-width="0.25"><tspan font-style="italic">ρ</tspan><tspan font-size="10.5" dy="3.5" font-style="italic">xx</tspan><tspan dy="-3.5"> (µΩ cm)</tspan></text>
<text x="177.8" y="940" font-size="15.5" text-anchor="middle" fill="#111"  stroke="#111" stroke-width="0.27">Ir composition (at.%)</text>
<circle cx="405.5" cy="250.1" r="3.7" fill="#a564f0" />
<circle cx="412.5" cy="249.5" r="3.7" fill="#a564f0" />
<circle cx="429.2" cy="247.4" r="3.7" fill="#a564f0" />
<circle cx="452.5" cy="245.4" r="3.7" fill="#a564f0" />
<circle cx="478.8" cy="243.3" r="3.7" fill="#a564f0" />
<circle cx="507.4" cy="241.9" r="3.7" fill="#a564f0" />
<circle cx="536.9" cy="241" r="3.7" fill="#a564f0" />
<circle cx="433.1" cy="190.2" r="3.7" fill="#7d9bfa" />
<circle cx="442.4" cy="185.9" r="3.7" fill="#7d9bfa" />
<circle cx="462.3" cy="176.8" r="3.7" fill="#7d9bfa" />
<circle cx="485.3" cy="167.1" r="3.7" fill="#7d9bfa" />
<circle cx="509.5" cy="159" r="3.7" fill="#7d9bfa" />
<circle cx="534.1" cy="152.5" r="3.7" fill="#7d9bfa" />
<circle cx="558.6" cy="147.8" r="3.7" fill="#7d9bfa" />
<circle cx="497.6" cy="90" r="3.7" fill="#78fafa" />
<circle cx="510.1" cy="88" r="3.7" fill="#78fafa" />
<circle cx="531.5" cy="81.8" r="3.7" fill="#78fafa" />
<circle cx="552.9" cy="75.9" r="3.7" fill="#78fafa" />
<circle cx="573.4" cy="70.1" r="3.7" fill="#78fafa" />
<circle cx="592.6" cy="66" r="3.7" fill="#78fafa" />
<circle cx="612.1" cy="62.3" r="3.7" fill="#78fafa" />
<circle cx="508.2" cy="48" r="3.7" fill="#3cf00a" />
<circle cx="517.3" cy="44.9" r="3.7" fill="#3cf00a" />
<circle cx="527.8" cy="41.2" r="3.7" fill="#3cf00a" />
<circle cx="538.5" cy="37.1" r="3.7" fill="#3cf00a" />
<circle cx="550" cy="33.4" r="3.7" fill="#3cf00a" />
<circle cx="561.7" cy="30.1" r="3.7" fill="#3cf00a" />
<circle cx="508.9" cy="81" r="3.7" fill="#ebb946" />
<circle cx="515.1" cy="78.3" r="3.7" fill="#ebb946" />
<circle cx="524.8" cy="73.6" r="3.7" fill="#ebb946" />
<circle cx="536.1" cy="68.9" r="3.7" fill="#ebb946" />
<circle cx="548.4" cy="64.3" r="3.7" fill="#ebb946" />
<circle cx="562.6" cy="58.1" r="3.7" fill="#ebb946" />
<circle cx="422.6" cy="191.4" r="3.7" fill="#f0737d" />
<circle cx="427.3" cy="186.5" r="3.7" fill="#f0737d" />
<circle cx="434.3" cy="180.3" r="3.7" fill="#f0737d" />
<circle cx="442.7" cy="172.5" r="3.7" fill="#f0737d" />
<circle cx="453.3" cy="163.1" r="3.7" fill="#f0737d" />
<circle cx="465.6" cy="153.2" r="3.7" fill="#f0737d" />
<line x1="406.1" y1="249.5" x2="536.9" y2="240.2" stroke="#111" stroke-width="1.2" />
<line x1="422.6" y1="191.2" x2="465.2" y2="153.2" stroke="#111" stroke-width="1.2" />
<line x1="433.1" y1="187.6" x2="558.6" y2="144.7" stroke="#111" stroke-width="1.2" />
<line x1="508.2" y1="48.2" x2="561.3" y2="30.1" stroke="#111" stroke-width="1.2" />
<line x1="508.9" y1="80.6" x2="562.4" y2="58.2" stroke="#111" stroke-width="1.2" />
<line x1="498.2" y1="89.7" x2="611.3" y2="61.6" stroke="#111" stroke-width="1.2" />
<line x1="376.95" y1="6.5" x2="635.73" y2="6.5" stroke="#1a1a1a" stroke-width="1.1" />
<line x1="376.95" y1="264" x2="635.73" y2="264" stroke="#1a1a1a" stroke-width="1.45" />
<line x1="377.5" y1="6.5" x2="377.5" y2="264" stroke="#1a1a1a" stroke-width="1.1" />
<line x1="635" y1="6.5" x2="635" y2="264" stroke="#1a1a1a" stroke-width="1.45" />
<line x1="395.98" y1="263.4" x2="395.98" y2="260.2" stroke="#1a1a1a" stroke-width="1.1" />
<line x1="395.98" y1="6.4" x2="395.98" y2="9.6" stroke="#1a1a1a" stroke-width="1.1" />
<line x1="432.74" y1="263.4" x2="432.74" y2="260.2" stroke="#1a1a1a" stroke-width="1.1" />
<line x1="432.74" y1="6.4" x2="432.74" y2="9.6" stroke="#1a1a1a" stroke-width="1.1" />
<line x1="469.49" y1="263.4" x2="469.49" y2="260.2" stroke="#1a1a1a" stroke-width="1.1" />
<line x1="469.49" y1="6.4" x2="469.49" y2="9.6" stroke="#1a1a1a" stroke-width="1.1" />
<line x1="506.25" y1="263.4" x2="506.25" y2="260.2" stroke="#1a1a1a" stroke-width="1.1" />
<line x1="506.25" y1="6.4" x2="506.25" y2="9.6" stroke="#1a1a1a" stroke-width="1.1" />
<line x1="543.01" y1="263.4" x2="543.01" y2="260.2" stroke="#1a1a1a" stroke-width="1.1" />
<line x1="543.01" y1="6.4" x2="543.01" y2="9.6" stroke="#1a1a1a" stroke-width="1.1" />
<line x1="579.76" y1="263.4" x2="579.76" y2="260.2" stroke="#1a1a1a" stroke-width="1.1" />
<line x1="579.76" y1="6.4" x2="579.76" y2="9.6" stroke="#1a1a1a" stroke-width="1.1" />
<line x1="616.52" y1="263.4" x2="616.52" y2="260.2" stroke="#1a1a1a" stroke-width="1.1" />
<line x1="616.52" y1="6.4" x2="616.52" y2="9.6" stroke="#1a1a1a" stroke-width="1.1" />
<line x1="377.6" y1="263.4" x2="377.6" y2="257.5" stroke="#1a1a1a" stroke-width="1.1" />
<line x1="377.6" y1="6.4" x2="377.6" y2="12.3" stroke="#1a1a1a" stroke-width="1.1" />
<line x1="451.11" y1="263.4" x2="451.11" y2="257.5" stroke="#1a1a1a" stroke-width="1.1" />
<line x1="451.11" y1="6.4" x2="451.11" y2="12.3" stroke="#1a1a1a" stroke-width="1.1" />
<line x1="524.63" y1="263.4" x2="524.63" y2="257.5" stroke="#1a1a1a" stroke-width="1.1" />
<line x1="524.63" y1="6.4" x2="524.63" y2="12.3" stroke="#1a1a1a" stroke-width="1.1" />
<line x1="598.14" y1="263.4" x2="598.14" y2="257.5" stroke="#1a1a1a" stroke-width="1.1" />
<line x1="598.14" y1="6.4" x2="598.14" y2="12.3" stroke="#1a1a1a" stroke-width="1.1" />
<line x1="414.36" y1="263.4" x2="414.36" y2="258.8" stroke="#1a1a1a" stroke-width="1.1" />
<line x1="414.36" y1="6.4" x2="414.36" y2="11" stroke="#1a1a1a" stroke-width="1.1" />
<line x1="487.87" y1="263.4" x2="487.87" y2="258.8" stroke="#1a1a1a" stroke-width="1.1" />
<line x1="487.87" y1="6.4" x2="487.87" y2="11" stroke="#1a1a1a" stroke-width="1.1" />
<line x1="561.39" y1="263.4" x2="561.39" y2="258.8" stroke="#1a1a1a" stroke-width="1.1" />
<line x1="561.39" y1="6.4" x2="561.39" y2="11" stroke="#1a1a1a" stroke-width="1.1" />
<line x1="377.6" y1="263.4" x2="380.8" y2="263.4" stroke="#1a1a1a" stroke-width="1.1" />
<line x1="634.9" y1="263.4" x2="631.7" y2="263.4" stroke="#1a1a1a" stroke-width="1.1" />
<line x1="377.6" y1="249.51" x2="380.8" y2="249.51" stroke="#1a1a1a" stroke-width="1.1" />
<line x1="634.9" y1="249.51" x2="631.7" y2="249.51" stroke="#1a1a1a" stroke-width="1.1" />
<line x1="377.6" y1="242.56" x2="380.8" y2="242.56" stroke="#1a1a1a" stroke-width="1.1" />
<line x1="634.9" y1="242.56" x2="631.7" y2="242.56" stroke="#1a1a1a" stroke-width="1.1" />
<line x1="377.6" y1="235.62" x2="380.8" y2="235.62" stroke="#1a1a1a" stroke-width="1.1" />
<line x1="634.9" y1="235.62" x2="631.7" y2="235.62" stroke="#1a1a1a" stroke-width="1.1" />
<line x1="377.6" y1="228.67" x2="380.8" y2="228.67" stroke="#1a1a1a" stroke-width="1.1" />
<line x1="634.9" y1="228.67" x2="631.7" y2="228.67" stroke="#1a1a1a" stroke-width="1.1" />
<line x1="377.6" y1="214.78" x2="380.8" y2="214.78" stroke="#1a1a1a" stroke-width="1.1" />
<line x1="634.9" y1="214.78" x2="631.7" y2="214.78" stroke="#1a1a1a" stroke-width="1.1" />
<line x1="377.6" y1="207.83" x2="380.8" y2="207.83" stroke="#1a1a1a" stroke-width="1.1" />
<line x1="634.9" y1="207.83" x2="631.7" y2="207.83" stroke="#1a1a1a" stroke-width="1.1" />
<line x1="377.6" y1="200.89" x2="380.8" y2="200.89" stroke="#1a1a1a" stroke-width="1.1" />
<line x1="634.9" y1="200.89" x2="631.7" y2="200.89" stroke="#1a1a1a" stroke-width="1.1" />
<line x1="377.6" y1="193.94" x2="380.8" y2="193.94" stroke="#1a1a1a" stroke-width="1.1" />
<line x1="634.9" y1="193.94" x2="631.7" y2="193.94" stroke="#1a1a1a" stroke-width="1.1" />
<line x1="377.6" y1="180.05" x2="380.8" y2="180.05" stroke="#1a1a1a" stroke-width="1.1" />
<line x1="634.9" y1="180.05" x2="631.7" y2="180.05" stroke="#1a1a1a" stroke-width="1.1" />
<line x1="377.6" y1="173.1" x2="380.8" y2="173.1" stroke="#1a1a1a" stroke-width="1.1" />
<line x1="634.9" y1="173.1" x2="631.7" y2="173.1" stroke="#1a1a1a" stroke-width="1.1" />
<line x1="377.6" y1="166.16" x2="380.8" y2="166.16" stroke="#1a1a1a" stroke-width="1.1" />
<line x1="634.9" y1="166.16" x2="631.7" y2="166.16" stroke="#1a1a1a" stroke-width="1.1" />
<line x1="377.6" y1="159.21" x2="380.8" y2="159.21" stroke="#1a1a1a" stroke-width="1.1" />
<line x1="634.9" y1="159.21" x2="631.7" y2="159.21" stroke="#1a1a1a" stroke-width="1.1" />
<line x1="377.6" y1="145.32" x2="380.8" y2="145.32" stroke="#1a1a1a" stroke-width="1.1" />
<line x1="634.9" y1="145.32" x2="631.7" y2="145.32" stroke="#1a1a1a" stroke-width="1.1" />
<line x1="377.6" y1="138.37" x2="380.8" y2="138.37" stroke="#1a1a1a" stroke-width="1.1" />
<line x1="634.9" y1="138.37" x2="631.7" y2="138.37" stroke="#1a1a1a" stroke-width="1.1" />
<line x1="377.6" y1="131.43" x2="380.8" y2="131.43" stroke="#1a1a1a" stroke-width="1.1" />
<line x1="634.9" y1="131.43" x2="631.7" y2="131.43" stroke="#1a1a1a" stroke-width="1.1" />
<line x1="377.6" y1="124.48" x2="380.8" y2="124.48" stroke="#1a1a1a" stroke-width="1.1" />
<line x1="634.9" y1="124.48" x2="631.7" y2="124.48" stroke="#1a1a1a" stroke-width="1.1" />
<line x1="377.6" y1="110.59" x2="380.8" y2="110.59" stroke="#1a1a1a" stroke-width="1.1" />
<line x1="634.9" y1="110.59" x2="631.7" y2="110.59" stroke="#1a1a1a" stroke-width="1.1" />
<line x1="377.6" y1="103.64" x2="380.8" y2="103.64" stroke="#1a1a1a" stroke-width="1.1" />
<line x1="634.9" y1="103.64" x2="631.7" y2="103.64" stroke="#1a1a1a" stroke-width="1.1" />
<line x1="377.6" y1="96.7" x2="380.8" y2="96.7" stroke="#1a1a1a" stroke-width="1.1" />
<line x1="634.9" y1="96.7" x2="631.7" y2="96.7" stroke="#1a1a1a" stroke-width="1.1" />
<line x1="377.6" y1="89.75" x2="380.8" y2="89.75" stroke="#1a1a1a" stroke-width="1.1" />
<line x1="634.9" y1="89.75" x2="631.7" y2="89.75" stroke="#1a1a1a" stroke-width="1.1" />
<line x1="377.6" y1="75.86" x2="380.8" y2="75.86" stroke="#1a1a1a" stroke-width="1.1" />
<line x1="634.9" y1="75.86" x2="631.7" y2="75.86" stroke="#1a1a1a" stroke-width="1.1" />
<line x1="377.6" y1="68.91" x2="380.8" y2="68.91" stroke="#1a1a1a" stroke-width="1.1" />
<line x1="634.9" y1="68.91" x2="631.7" y2="68.91" stroke="#1a1a1a" stroke-width="1.1" />
<line x1="377.6" y1="61.97" x2="380.8" y2="61.97" stroke="#1a1a1a" stroke-width="1.1" />
<line x1="634.9" y1="61.97" x2="631.7" y2="61.97" stroke="#1a1a1a" stroke-width="1.1" />
<line x1="377.6" y1="55.02" x2="380.8" y2="55.02" stroke="#1a1a1a" stroke-width="1.1" />
<line x1="634.9" y1="55.02" x2="631.7" y2="55.02" stroke="#1a1a1a" stroke-width="1.1" />
<line x1="377.6" y1="41.13" x2="380.8" y2="41.13" stroke="#1a1a1a" stroke-width="1.1" />
<line x1="634.9" y1="41.13" x2="631.7" y2="41.13" stroke="#1a1a1a" stroke-width="1.1" />
<line x1="377.6" y1="34.18" x2="380.8" y2="34.18" stroke="#1a1a1a" stroke-width="1.1" />
<line x1="634.9" y1="34.18" x2="631.7" y2="34.18" stroke="#1a1a1a" stroke-width="1.1" />
<line x1="377.6" y1="27.24" x2="380.8" y2="27.24" stroke="#1a1a1a" stroke-width="1.1" />
<line x1="634.9" y1="27.24" x2="631.7" y2="27.24" stroke="#1a1a1a" stroke-width="1.1" />
<line x1="377.6" y1="20.29" x2="380.8" y2="20.29" stroke="#1a1a1a" stroke-width="1.1" />
<line x1="634.9" y1="20.29" x2="631.7" y2="20.29" stroke="#1a1a1a" stroke-width="1.1" />
<line x1="377.6" y1="6.4" x2="380.8" y2="6.4" stroke="#1a1a1a" stroke-width="1.1" />
<line x1="634.9" y1="6.4" x2="631.7" y2="6.4" stroke="#1a1a1a" stroke-width="1.1" />
<line x1="377.6" y1="256.45" x2="383.5" y2="256.45" stroke="#1a1a1a" stroke-width="1.1" />
<line x1="634.9" y1="256.45" x2="629" y2="256.45" stroke="#1a1a1a" stroke-width="1.1" />
<line x1="377.6" y1="221.72" x2="383.5" y2="221.72" stroke="#1a1a1a" stroke-width="1.1" />
<line x1="634.9" y1="221.72" x2="629" y2="221.72" stroke="#1a1a1a" stroke-width="1.1" />
<line x1="377.6" y1="186.99" x2="383.5" y2="186.99" stroke="#1a1a1a" stroke-width="1.1" />
<line x1="634.9" y1="186.99" x2="629" y2="186.99" stroke="#1a1a1a" stroke-width="1.1" />
<line x1="377.6" y1="152.26" x2="383.5" y2="152.26" stroke="#1a1a1a" stroke-width="1.1" />
<line x1="634.9" y1="152.26" x2="629" y2="152.26" stroke="#1a1a1a" stroke-width="1.1" />
<line x1="377.6" y1="117.54" x2="383.5" y2="117.54" stroke="#1a1a1a" stroke-width="1.1" />
<line x1="634.9" y1="117.54" x2="629" y2="117.54" stroke="#1a1a1a" stroke-width="1.1" />
<line x1="377.6" y1="82.81" x2="383.5" y2="82.81" stroke="#1a1a1a" stroke-width="1.1" />
<line x1="634.9" y1="82.81" x2="629" y2="82.81" stroke="#1a1a1a" stroke-width="1.1" />
<line x1="377.6" y1="48.08" x2="383.5" y2="48.08" stroke="#1a1a1a" stroke-width="1.1" />
<line x1="634.9" y1="48.08" x2="629" y2="48.08" stroke="#1a1a1a" stroke-width="1.1" />
<line x1="377.6" y1="13.35" x2="383.5" y2="13.35" stroke="#1a1a1a" stroke-width="1.1" />
<line x1="634.9" y1="13.35" x2="629" y2="13.35" stroke="#1a1a1a" stroke-width="1.1" />
<text x="377.6" y="279.9" font-size="14.2" text-anchor="middle" fill="#111"  stroke="#111" stroke-width="0.22">0</text>
<text x="451.11" y="279.9" font-size="14.2" text-anchor="middle" fill="#111"  stroke="#111" stroke-width="0.22">2000</text>
<text x="524.63" y="279.9" font-size="14.2" text-anchor="middle" fill="#111"  stroke="#111" stroke-width="0.22">4000</text>
<text x="598.14" y="279.9" font-size="14.2" text-anchor="middle" fill="#111"  stroke="#111" stroke-width="0.22">6000</text>
<text x="374.1" y="261.45" font-size="14.2" text-anchor="end" fill="#111"  stroke="#111" stroke-width="0.22">0.0</text>
<text x="374.1" y="226.72" font-size="14.2" text-anchor="end" fill="#111"  stroke="#111" stroke-width="0.22">1.0</text>
<text x="374.1" y="191.99" font-size="14.2" text-anchor="end" fill="#111"  stroke="#111" stroke-width="0.22">2.0</text>
<text x="374.1" y="157.26" font-size="14.2" text-anchor="end" fill="#111"  stroke="#111" stroke-width="0.22">3.0</text>
<text x="374.1" y="122.54" font-size="14.2" text-anchor="end" fill="#111"  stroke="#111" stroke-width="0.22">4.0</text>
<text x="374.1" y="87.81" font-size="14.2" text-anchor="end" fill="#111"  stroke="#111" stroke-width="0.22">5.0</text>
<text x="374.1" y="53.08" font-size="14.2" text-anchor="end" fill="#111"  stroke="#111" stroke-width="0.22">6.0</text>
<text x="374.1" y="18.35" font-size="14.2" text-anchor="end" fill="#111"  stroke="#111" stroke-width="0.22">7.0</text>
<text x="333" y="21" font-size="20.5" text-anchor="start" fill="#000" stroke="#000" stroke-width="0.55">d</text>
<line x1="392" y1="27.5" x2="416.5" y2="27.5" stroke="#111" stroke-width="1.2" />
<text x="422" y="32" font-size="12.3" text-anchor="start" fill="#111"  stroke="#111" stroke-width="0.17">Fit</text>
<text font-size="12.3" fill="#111" stroke="#111" stroke-width="0.25"><tspan x="389.6" y="46.6" font-style="italic">ρ</tspan><tspan x="398.2" y="41.4" font-size="8.2" font-style="italic">A</tspan><tspan x="397.2" y="49.7" font-size="9" font-style="italic">yx</tspan><tspan x="410.2" y="46.6">=</tspan><tspan x="421.4" y="46.6" font-style="italic">a</tspan><tspan x="431.4" y="46.6" font-style="italic">ρ</tspan><tspan x="439.4" y="49.7" font-size="9" font-style="italic">xx</tspan><tspan font-size="9">0</tspan><tspan x="457.8" y="46.6">+</tspan><tspan x="468.6" y="46.6" font-style="italic">b</tspan><tspan x="479.2" y="46.6" font-style="italic">ρ</tspan><tspan x="487.6" y="43.3" font-size="8.2">2</tspan><tspan x="486.4" y="49.7" font-size="9" font-style="italic">xx</tspan></text>
<rect x="567.5" y="181.5" width="54" height="68" fill="#fff" stroke="#4a4a4a" stroke-width="1.1"/>
<circle cx="579.7" cy="188.5" r="3.1" fill="#a564f0" />
<text x="620" y="191.9" font-size="9.7" text-anchor="end" fill="#111"  stroke="#111" stroke-width="0.10">21.1%</text>
<circle cx="579.7" cy="199.4" r="3.1" fill="#7d9bfa" />
<text x="620" y="202.8" font-size="9.7" text-anchor="end" fill="#111"  stroke="#111" stroke-width="0.10">18.7%</text>
<circle cx="579.7" cy="210.3" r="3.1" fill="#78fafa" />
<text x="620" y="213.7" font-size="9.7" text-anchor="end" fill="#111"  stroke="#111" stroke-width="0.10">16.9%</text>
<circle cx="579.7" cy="221.2" r="3.1" fill="#3cf00a" />
<text x="620" y="224.6" font-size="9.7" text-anchor="end" fill="#111"  stroke="#111" stroke-width="0.10">11.7%</text>
<circle cx="579.7" cy="232.1" r="3.1" fill="#ebb946" />
<text x="620" y="235.5" font-size="9.7" text-anchor="end" fill="#111"  stroke="#111" stroke-width="0.10">6.4%</text>
<circle cx="579.7" cy="243" r="3.1" fill="#f0737d" />
<text x="620" y="246.4" font-size="9.7" text-anchor="end" fill="#111"  stroke="#111" stroke-width="0.10">1.1%</text>
<text transform="translate(343.8,135) rotate(-90)" font-size="15.5" text-anchor="middle" fill="#111" stroke="#111" stroke-width="0.25"><tspan font-style="italic">ρ</tspan><tspan font-size="10.5" dy="3.5" font-style="italic">yx</tspan><tspan font-size="10.5" dx="-10" dy="-10" font-style="italic">A</tspan><tspan dy="6.5" dx="2"> (µΩ cm)</tspan></text>
<text font-size="15.5" fill="#111" stroke="#111" stroke-width="0.25"><tspan x="459.6" y="305.5" font-style="italic">ρ</tspan><tspan x="469.4" y="295.8" font-size="10">2</tspan><tspan x="468.4" y="309.6" font-size="10.5" font-style="italic">xx</tspan><tspan x="484.4" y="305.5">(µΩ</tspan><tspan x="510.3" y="295.8" font-size="10">2</tspan><tspan x="520.5" y="305.5">cm</tspan><tspan x="541.0" y="295.8" font-size="10">2</tspan><tspan x="547.3" y="305.5">)</tspan></text>
<polyline points="390.37,519.01 452.38,408.35 514.39,342.13 575.23,374.48 596.29,470.63 624.37,566.18" fill="none" stroke="#ff1a1a" stroke-width="1.6" stroke-linejoin="round" />
<circle cx="390.37" cy="519.01" r="4.0" fill="#ff1a1a" />
<circle cx="452.38" cy="408.35" r="4.0" fill="#ff1a1a" />
<circle cx="514.39" cy="342.13" r="4.0" fill="#ff1a1a" />
<circle cx="575.23" cy="374.48" r="4.0" fill="#ff1a1a" />
<circle cx="596.29" cy="470.63" r="4.0" fill="#ff1a1a" />
<circle cx="624.37" cy="566.18" r="4.0" fill="#ff1a1a" />
<polyline points="390.37,351.14 452.38,471.32 514.39,494.09 575.23,517.58 596.29,493.35 624.37,563.35" fill="none" stroke="#1010f5" stroke-width="1.6" stroke-linejoin="round" />
<circle cx="390.37" cy="351.14" r="4.0" fill="#1010f5" />
<circle cx="452.38" cy="471.32" r="4.0" fill="#1010f5" />
<circle cx="514.39" cy="494.09" r="4.0" fill="#1010f5" />
<circle cx="575.23" cy="517.58" r="4.0" fill="#1010f5" />
<circle cx="596.29" cy="493.35" r="4.0" fill="#1010f5" />
<circle cx="624.37" cy="563.35" r="4.0" fill="#1010f5" />
<line x1="377.5" y1="325" x2="377.5" y2="582.5" stroke="#ff2a2a" stroke-width="1.1" />
<line x1="635" y1="324.3" x2="635" y2="583.05" stroke="#4d4dff" stroke-width="1.45" />
<line x1="376.95" y1="325" x2="634.3" y2="325" stroke="#1a1a1a" stroke-width="1.45" />
<line x1="376.95" y1="582.5" x2="634.3" y2="582.5" stroke="#1a1a1a" stroke-width="1.1" />
<line x1="389.2" y1="582.2" x2="389.2" y2="579" stroke="#1a1a1a" stroke-width="1.1" />
<line x1="389.2" y1="325.2" x2="389.2" y2="328.4" stroke="#1a1a1a" stroke-width="1.1" />
<line x1="400.9" y1="582.2" x2="400.9" y2="579" stroke="#1a1a1a" stroke-width="1.1" />
<line x1="400.9" y1="325.2" x2="400.9" y2="328.4" stroke="#1a1a1a" stroke-width="1.1" />
<line x1="412.6" y1="582.2" x2="412.6" y2="579" stroke="#1a1a1a" stroke-width="1.1" />
<line x1="412.6" y1="325.2" x2="412.6" y2="328.4" stroke="#1a1a1a" stroke-width="1.1" />
<line x1="424.3" y1="582.2" x2="424.3" y2="579" stroke="#1a1a1a" stroke-width="1.1" />
<line x1="424.3" y1="325.2" x2="424.3" y2="328.4" stroke="#1a1a1a" stroke-width="1.1" />
<line x1="447.7" y1="582.2" x2="447.7" y2="579" stroke="#1a1a1a" stroke-width="1.1" />
<line x1="447.7" y1="325.2" x2="447.7" y2="328.4" stroke="#1a1a1a" stroke-width="1.1" />
<line x1="459.4" y1="582.2" x2="459.4" y2="579" stroke="#1a1a1a" stroke-width="1.1" />
<line x1="459.4" y1="325.2" x2="459.4" y2="328.4" stroke="#1a1a1a" stroke-width="1.1" />
<line x1="471.1" y1="582.2" x2="471.1" y2="579" stroke="#1a1a1a" stroke-width="1.1" />
<line x1="471.1" y1="325.2" x2="471.1" y2="328.4" stroke="#1a1a1a" stroke-width="1.1" />
<line x1="482.8" y1="582.2" x2="482.8" y2="579" stroke="#1a1a1a" stroke-width="1.1" />
<line x1="482.8" y1="325.2" x2="482.8" y2="328.4" stroke="#1a1a1a" stroke-width="1.1" />
<line x1="506.2" y1="582.2" x2="506.2" y2="579" stroke="#1a1a1a" stroke-width="1.1" />
<line x1="506.2" y1="325.2" x2="506.2" y2="328.4" stroke="#1a1a1a" stroke-width="1.1" />
<line x1="517.9" y1="582.2" x2="517.9" y2="579" stroke="#1a1a1a" stroke-width="1.1" />
<line x1="517.9" y1="325.2" x2="517.9" y2="328.4" stroke="#1a1a1a" stroke-width="1.1" />
<line x1="529.6" y1="582.2" x2="529.6" y2="579" stroke="#1a1a1a" stroke-width="1.1" />
<line x1="529.6" y1="325.2" x2="529.6" y2="328.4" stroke="#1a1a1a" stroke-width="1.1" />
<line x1="541.3" y1="582.2" x2="541.3" y2="579" stroke="#1a1a1a" stroke-width="1.1" />
<line x1="541.3" y1="325.2" x2="541.3" y2="328.4" stroke="#1a1a1a" stroke-width="1.1" />
<line x1="564.7" y1="582.2" x2="564.7" y2="579" stroke="#1a1a1a" stroke-width="1.1" />
<line x1="564.7" y1="325.2" x2="564.7" y2="328.4" stroke="#1a1a1a" stroke-width="1.1" />
<line x1="576.4" y1="582.2" x2="576.4" y2="579" stroke="#1a1a1a" stroke-width="1.1" />
<line x1="576.4" y1="325.2" x2="576.4" y2="328.4" stroke="#1a1a1a" stroke-width="1.1" />
<line x1="588.1" y1="582.2" x2="588.1" y2="579" stroke="#1a1a1a" stroke-width="1.1" />
<line x1="588.1" y1="325.2" x2="588.1" y2="328.4" stroke="#1a1a1a" stroke-width="1.1" />
<line x1="599.8" y1="582.2" x2="599.8" y2="579" stroke="#1a1a1a" stroke-width="1.1" />
<line x1="599.8" y1="325.2" x2="599.8" y2="328.4" stroke="#1a1a1a" stroke-width="1.1" />
<line x1="623.2" y1="582.2" x2="623.2" y2="579" stroke="#1a1a1a" stroke-width="1.1" />
<line x1="623.2" y1="325.2" x2="623.2" y2="328.4" stroke="#1a1a1a" stroke-width="1.1" />
<line x1="377.5" y1="582.2" x2="377.5" y2="576.3" stroke="#1a1a1a" stroke-width="1.1" />
<line x1="377.5" y1="325.2" x2="377.5" y2="331.1" stroke="#1a1a1a" stroke-width="1.1" />
<line x1="436" y1="582.2" x2="436" y2="576.3" stroke="#1a1a1a" stroke-width="1.1" />
<line x1="436" y1="325.2" x2="436" y2="331.1" stroke="#1a1a1a" stroke-width="1.1" />
<line x1="494.5" y1="582.2" x2="494.5" y2="576.3" stroke="#1a1a1a" stroke-width="1.1" />
<line x1="494.5" y1="325.2" x2="494.5" y2="331.1" stroke="#1a1a1a" stroke-width="1.1" />
<line x1="553" y1="582.2" x2="553" y2="576.3" stroke="#1a1a1a" stroke-width="1.1" />
<line x1="553" y1="325.2" x2="553" y2="331.1" stroke="#1a1a1a" stroke-width="1.1" />
<line x1="611.5" y1="582.2" x2="611.5" y2="576.3" stroke="#1a1a1a" stroke-width="1.1" />
<line x1="611.5" y1="325.2" x2="611.5" y2="331.1" stroke="#1a1a1a" stroke-width="1.1" />
<line x1="377.5" y1="521.73" x2="383.4" y2="521.73" stroke="#ff2a2a" stroke-width="1.1" />
<line x1="377.5" y1="461.26" x2="383.4" y2="461.26" stroke="#ff2a2a" stroke-width="1.1" />
<line x1="377.5" y1="400.79" x2="383.4" y2="400.79" stroke="#ff2a2a" stroke-width="1.1" />
<line x1="377.5" y1="340.32" x2="383.4" y2="340.32" stroke="#ff2a2a" stroke-width="1.1" />
<line x1="377.5" y1="567.08" x2="380.7" y2="567.08" stroke="#ff2a2a" stroke-width="1.1" />
<line x1="377.5" y1="551.96" x2="382.1" y2="551.96" stroke="#ff2a2a" stroke-width="1.1" />
<line x1="377.5" y1="536.85" x2="380.7" y2="536.85" stroke="#ff2a2a" stroke-width="1.1" />
<line x1="377.5" y1="506.61" x2="380.7" y2="506.61" stroke="#ff2a2a" stroke-width="1.1" />
<line x1="377.5" y1="491.49" x2="382.1" y2="491.49" stroke="#ff2a2a" stroke-width="1.1" />
<line x1="377.5" y1="476.38" x2="380.7" y2="476.38" stroke="#ff2a2a" stroke-width="1.1" />
<line x1="377.5" y1="446.14" x2="380.7" y2="446.14" stroke="#ff2a2a" stroke-width="1.1" />
<line x1="377.5" y1="431.02" x2="382.1" y2="431.02" stroke="#ff2a2a" stroke-width="1.1" />
<line x1="377.5" y1="415.91" x2="380.7" y2="415.91" stroke="#ff2a2a" stroke-width="1.1" />
<line x1="377.5" y1="385.67" x2="380.7" y2="385.67" stroke="#ff2a2a" stroke-width="1.1" />
<line x1="377.5" y1="370.55" x2="382.1" y2="370.55" stroke="#ff2a2a" stroke-width="1.1" />
<line x1="377.5" y1="355.44" x2="380.7" y2="355.44" stroke="#ff2a2a" stroke-width="1.1" />
<line x1="634.9" y1="582.2" x2="629" y2="582.2" stroke="#4d4dff" stroke-width="1.1" />
<line x1="634.9" y1="533.25" x2="629" y2="533.25" stroke="#4d4dff" stroke-width="1.1" />
<line x1="634.9" y1="484.3" x2="629" y2="484.3" stroke="#4d4dff" stroke-width="1.1" />
<line x1="634.9" y1="435.34" x2="629" y2="435.34" stroke="#4d4dff" stroke-width="1.1" />
<line x1="634.9" y1="386.39" x2="629" y2="386.39" stroke="#4d4dff" stroke-width="1.1" />
<line x1="634.9" y1="337.44" x2="629" y2="337.44" stroke="#4d4dff" stroke-width="1.1" />
<line x1="634.9" y1="569.96" x2="631.7" y2="569.96" stroke="#4d4dff" stroke-width="1.1" />
<line x1="634.9" y1="557.72" x2="630.3" y2="557.72" stroke="#4d4dff" stroke-width="1.1" />
<line x1="634.9" y1="545.49" x2="631.7" y2="545.49" stroke="#4d4dff" stroke-width="1.1" />
<line x1="634.9" y1="521.01" x2="631.7" y2="521.01" stroke="#4d4dff" stroke-width="1.1" />
<line x1="634.9" y1="508.77" x2="630.3" y2="508.77" stroke="#4d4dff" stroke-width="1.1" />
<line x1="634.9" y1="496.53" x2="631.7" y2="496.53" stroke="#4d4dff" stroke-width="1.1" />
<line x1="634.9" y1="472.06" x2="631.7" y2="472.06" stroke="#4d4dff" stroke-width="1.1" />
<line x1="634.9" y1="459.82" x2="630.3" y2="459.82" stroke="#4d4dff" stroke-width="1.1" />
<line x1="634.9" y1="447.58" x2="631.7" y2="447.58" stroke="#4d4dff" stroke-width="1.1" />
<line x1="634.9" y1="423.1" x2="631.7" y2="423.1" stroke="#4d4dff" stroke-width="1.1" />
<line x1="634.9" y1="410.87" x2="630.3" y2="410.87" stroke="#4d4dff" stroke-width="1.1" />
<line x1="634.9" y1="398.63" x2="631.7" y2="398.63" stroke="#4d4dff" stroke-width="1.1" />
<line x1="634.9" y1="374.15" x2="631.7" y2="374.15" stroke="#4d4dff" stroke-width="1.1" />
<line x1="634.9" y1="361.91" x2="630.3" y2="361.91" stroke="#4d4dff" stroke-width="1.1" />
<line x1="634.9" y1="349.68" x2="631.7" y2="349.68" stroke="#4d4dff" stroke-width="1.1" />
<line x1="634.9" y1="325.2" x2="631.7" y2="325.2" stroke="#4d4dff" stroke-width="1.1" />
<text x="377.5" y="598.7" font-size="14.2" text-anchor="middle" fill="#111"  stroke="#111" stroke-width="0.22">0</text>
<text x="436" y="598.7" font-size="14.2" text-anchor="middle" fill="#111"  stroke="#111" stroke-width="0.22">5</text>
<text x="494.5" y="598.7" font-size="14.2" text-anchor="middle" fill="#111"  stroke="#111" stroke-width="0.22">10</text>
<text x="553" y="598.7" font-size="14.2" text-anchor="middle" fill="#111"  stroke="#111" stroke-width="0.22">15</text>
<text x="611.5" y="598.7" font-size="14.2" text-anchor="middle" fill="#111"  stroke="#111" stroke-width="0.22">20</text>
<text x="374" y="587.2" font-size="14.2" text-anchor="end" fill="#ff2a2a"  stroke="#ff2a2a" stroke-width="0.22">0</text>
<text x="374" y="526.73" font-size="14.2" text-anchor="end" fill="#ff2a2a"  stroke="#ff2a2a" stroke-width="0.22">20</text>
<text x="374" y="466.26" font-size="14.2" text-anchor="end" fill="#ff2a2a"  stroke="#ff2a2a" stroke-width="0.22">40</text>
<text x="374" y="405.79" font-size="14.2" text-anchor="end" fill="#ff2a2a"  stroke="#ff2a2a" stroke-width="0.22">60</text>
<text x="374" y="345.32" font-size="14.2" text-anchor="end" fill="#ff2a2a"  stroke="#ff2a2a" stroke-width="0.22">80</text>
<text x="639.4" y="587.2" font-size="14.2" text-anchor="start" fill="#3333ee"  stroke="#3333ee" stroke-width="0.22">0</text>
<text x="639.4" y="538.25" font-size="14.2" text-anchor="start" fill="#3333ee"  stroke="#3333ee" stroke-width="0.22">200</text>
<text x="639.4" y="489.3" font-size="14.2" text-anchor="start" fill="#3333ee"  stroke="#3333ee" stroke-width="0.22">400</text>
<text x="639.4" y="440.34" font-size="14.2" text-anchor="start" fill="#3333ee"  stroke="#3333ee" stroke-width="0.22">600</text>
<text x="639.4" y="391.39" font-size="14.2" text-anchor="start" fill="#3333ee"  stroke="#3333ee" stroke-width="0.22">800</text>
<text x="639.4" y="342.44" font-size="14.2" text-anchor="start" fill="#3333ee"  stroke="#3333ee" stroke-width="0.22">1000</text>
<text x="333" y="339.7" font-size="20.5" text-anchor="start" fill="#000" stroke="#000" stroke-width="0.55">e</text>
<text transform="translate(349.5,453.3) rotate(-90)" font-size="15.5" text-anchor="middle" fill="#ff2a2a" stroke="#ff2a2a" stroke-width="0.25"><tspan font-style="italic">a</tspan> (10<tspan font-size="10.5" dy="-6">-3</tspan><tspan dy="6">)</tspan></text>
<text transform="translate(672.3,454.6) rotate(90)" font-size="15.5" text-anchor="middle" fill="#3333ee" stroke="#3333ee" stroke-width="0.25"><tspan font-style="italic">b</tspan> (S/cm)</text>
<text x="506" y="621" font-size="15.5" text-anchor="middle" fill="#111"  stroke="#111" stroke-width="0.27">Ir composition (at.%)</text>
<polyline points="390.56,838.35 452.52,746.5 514.48,714.77 575.28,720.7 596.32,786.23 624.38,822.09" fill="none" stroke="#000" stroke-width="1.5" stroke-linejoin="round" />
<circle cx="390.56" cy="838.35" r="3.9" fill="#000" />
<circle cx="452.52" cy="746.5" r="3.9" fill="#000" />
<circle cx="514.48" cy="714.77" r="3.9" fill="#000" />
<circle cx="575.28" cy="720.7" r="3.9" fill="#000" />
<circle cx="596.32" cy="786.23" r="3.9" fill="#000" />
<circle cx="624.38" cy="822.09" r="3.9" fill="#000" />
<line x1="376.95" y1="643.5" x2="635.73" y2="643.5" stroke="#1a1a1a" stroke-width="1.1" />
<line x1="376.95" y1="901" x2="635.73" y2="901" stroke="#1a1a1a" stroke-width="1.45" />
<line x1="377.5" y1="643.5" x2="377.5" y2="901" stroke="#1a1a1a" stroke-width="1.1" />
<line x1="635" y1="643.5" x2="635" y2="901" stroke="#1a1a1a" stroke-width="1.45" />
<line x1="389.39" y1="901.3" x2="389.39" y2="898.1" stroke="#1a1a1a" stroke-width="1.1" />
<line x1="389.39" y1="643.3" x2="389.39" y2="646.5" stroke="#1a1a1a" stroke-width="1.1" />
<line x1="401.08" y1="901.3" x2="401.08" y2="898.1" stroke="#1a1a1a" stroke-width="1.1" />
<line x1="401.08" y1="643.3" x2="401.08" y2="646.5" stroke="#1a1a1a" stroke-width="1.1" />
<line x1="412.77" y1="901.3" x2="412.77" y2="898.1" stroke="#1a1a1a" stroke-width="1.1" />
<line x1="412.77" y1="643.3" x2="412.77" y2="646.5" stroke="#1a1a1a" stroke-width="1.1" />
<line x1="424.46" y1="901.3" x2="424.46" y2="898.1" stroke="#1a1a1a" stroke-width="1.1" />
<line x1="424.46" y1="643.3" x2="424.46" y2="646.5" stroke="#1a1a1a" stroke-width="1.1" />
<line x1="447.85" y1="901.3" x2="447.85" y2="898.1" stroke="#1a1a1a" stroke-width="1.1" />
<line x1="447.85" y1="643.3" x2="447.85" y2="646.5" stroke="#1a1a1a" stroke-width="1.1" />
<line x1="459.54" y1="901.3" x2="459.54" y2="898.1" stroke="#1a1a1a" stroke-width="1.1" />
<line x1="459.54" y1="643.3" x2="459.54" y2="646.5" stroke="#1a1a1a" stroke-width="1.1" />
<line x1="471.23" y1="901.3" x2="471.23" y2="898.1" stroke="#1a1a1a" stroke-width="1.1" />
<line x1="471.23" y1="643.3" x2="471.23" y2="646.5" stroke="#1a1a1a" stroke-width="1.1" />
<line x1="482.92" y1="901.3" x2="482.92" y2="898.1" stroke="#1a1a1a" stroke-width="1.1" />
<line x1="482.92" y1="643.3" x2="482.92" y2="646.5" stroke="#1a1a1a" stroke-width="1.1" />
<line x1="506.3" y1="901.3" x2="506.3" y2="898.1" stroke="#1a1a1a" stroke-width="1.1" />
<line x1="506.3" y1="643.3" x2="506.3" y2="646.5" stroke="#1a1a1a" stroke-width="1.1" />
<line x1="517.99" y1="901.3" x2="517.99" y2="898.1" stroke="#1a1a1a" stroke-width="1.1" />
<line x1="517.99" y1="643.3" x2="517.99" y2="646.5" stroke="#1a1a1a" stroke-width="1.1" />
<line x1="529.68" y1="901.3" x2="529.68" y2="898.1" stroke="#1a1a1a" stroke-width="1.1" />
<line x1="529.68" y1="643.3" x2="529.68" y2="646.5" stroke="#1a1a1a" stroke-width="1.1" />
<line x1="541.37" y1="901.3" x2="541.37" y2="898.1" stroke="#1a1a1a" stroke-width="1.1" />
<line x1="541.37" y1="643.3" x2="541.37" y2="646.5" stroke="#1a1a1a" stroke-width="1.1" />
<line x1="564.75" y1="901.3" x2="564.75" y2="898.1" stroke="#1a1a1a" stroke-width="1.1" />
<line x1="564.75" y1="643.3" x2="564.75" y2="646.5" stroke="#1a1a1a" stroke-width="1.1" />
<line x1="576.45" y1="901.3" x2="576.45" y2="898.1" stroke="#1a1a1a" stroke-width="1.1" />
<line x1="576.45" y1="643.3" x2="576.45" y2="646.5" stroke="#1a1a1a" stroke-width="1.1" />
<line x1="588.14" y1="901.3" x2="588.14" y2="898.1" stroke="#1a1a1a" stroke-width="1.1" />
<line x1="588.14" y1="643.3" x2="588.14" y2="646.5" stroke="#1a1a1a" stroke-width="1.1" />
<line x1="599.83" y1="901.3" x2="599.83" y2="898.1" stroke="#1a1a1a" stroke-width="1.1" />
<line x1="599.83" y1="643.3" x2="599.83" y2="646.5" stroke="#1a1a1a" stroke-width="1.1" />
<line x1="623.21" y1="901.3" x2="623.21" y2="898.1" stroke="#1a1a1a" stroke-width="1.1" />
<line x1="623.21" y1="643.3" x2="623.21" y2="646.5" stroke="#1a1a1a" stroke-width="1.1" />
<line x1="634.9" y1="901.3" x2="634.9" y2="898.1" stroke="#1a1a1a" stroke-width="1.1" />
<line x1="634.9" y1="643.3" x2="634.9" y2="646.5" stroke="#1a1a1a" stroke-width="1.1" />
<line x1="377.7" y1="901.3" x2="377.7" y2="895.4" stroke="#1a1a1a" stroke-width="1.1" />
<line x1="377.7" y1="643.3" x2="377.7" y2="649.2" stroke="#1a1a1a" stroke-width="1.1" />
<line x1="436.15" y1="901.3" x2="436.15" y2="895.4" stroke="#1a1a1a" stroke-width="1.1" />
<line x1="436.15" y1="643.3" x2="436.15" y2="649.2" stroke="#1a1a1a" stroke-width="1.1" />
<line x1="494.61" y1="901.3" x2="494.61" y2="895.4" stroke="#1a1a1a" stroke-width="1.1" />
<line x1="494.61" y1="643.3" x2="494.61" y2="649.2" stroke="#1a1a1a" stroke-width="1.1" />
<line x1="553.06" y1="901.3" x2="553.06" y2="895.4" stroke="#1a1a1a" stroke-width="1.1" />
<line x1="553.06" y1="643.3" x2="553.06" y2="649.2" stroke="#1a1a1a" stroke-width="1.1" />
<line x1="611.52" y1="901.3" x2="611.52" y2="895.4" stroke="#1a1a1a" stroke-width="1.1" />
<line x1="611.52" y1="643.3" x2="611.52" y2="649.2" stroke="#1a1a1a" stroke-width="1.1" />
<line x1="377.7" y1="901.3" x2="383.6" y2="901.3" stroke="#1a1a1a" stroke-width="1.1" />
<line x1="634.9" y1="901.3" x2="629" y2="901.3" stroke="#1a1a1a" stroke-width="1.1" />
<line x1="377.7" y1="875.5" x2="383.6" y2="875.5" stroke="#1a1a1a" stroke-width="1.1" />
<line x1="634.9" y1="875.5" x2="629" y2="875.5" stroke="#1a1a1a" stroke-width="1.1" />
<line x1="377.7" y1="849.7" x2="383.6" y2="849.7" stroke="#1a1a1a" stroke-width="1.1" />
<line x1="634.9" y1="849.7" x2="629" y2="849.7" stroke="#1a1a1a" stroke-width="1.1" />
<line x1="377.7" y1="823.9" x2="383.6" y2="823.9" stroke="#1a1a1a" stroke-width="1.1" />
<line x1="634.9" y1="823.9" x2="629" y2="823.9" stroke="#1a1a1a" stroke-width="1.1" />
<line x1="377.7" y1="798.1" x2="383.6" y2="798.1" stroke="#1a1a1a" stroke-width="1.1" />
<line x1="634.9" y1="798.1" x2="629" y2="798.1" stroke="#1a1a1a" stroke-width="1.1" />
<line x1="377.7" y1="772.3" x2="383.6" y2="772.3" stroke="#1a1a1a" stroke-width="1.1" />
<line x1="634.9" y1="772.3" x2="629" y2="772.3" stroke="#1a1a1a" stroke-width="1.1" />
<line x1="377.7" y1="746.5" x2="383.6" y2="746.5" stroke="#1a1a1a" stroke-width="1.1" />
<line x1="634.9" y1="746.5" x2="629" y2="746.5" stroke="#1a1a1a" stroke-width="1.1" />
<line x1="377.7" y1="720.7" x2="383.6" y2="720.7" stroke="#1a1a1a" stroke-width="1.1" />
<line x1="634.9" y1="720.7" x2="629" y2="720.7" stroke="#1a1a1a" stroke-width="1.1" />
<line x1="377.7" y1="694.9" x2="383.6" y2="694.9" stroke="#1a1a1a" stroke-width="1.1" />
<line x1="634.9" y1="694.9" x2="629" y2="694.9" stroke="#1a1a1a" stroke-width="1.1" />
<line x1="377.7" y1="669.1" x2="383.6" y2="669.1" stroke="#1a1a1a" stroke-width="1.1" />
<line x1="634.9" y1="669.1" x2="629" y2="669.1" stroke="#1a1a1a" stroke-width="1.1" />
<line x1="377.7" y1="643.3" x2="383.6" y2="643.3" stroke="#1a1a1a" stroke-width="1.1" />
<line x1="634.9" y1="643.3" x2="629" y2="643.3" stroke="#1a1a1a" stroke-width="1.1" />
<text x="377.7" y="917.8" font-size="14.2" text-anchor="middle" fill="#111"  stroke="#111" stroke-width="0.22">0</text>
<text x="436.15" y="917.8" font-size="14.2" text-anchor="middle" fill="#111"  stroke="#111" stroke-width="0.22">5</text>
<text x="494.61" y="917.8" font-size="14.2" text-anchor="middle" fill="#111"  stroke="#111" stroke-width="0.22">10</text>
<text x="553.06" y="917.8" font-size="14.2" text-anchor="middle" fill="#111"  stroke="#111" stroke-width="0.22">15</text>
<text x="611.52" y="917.8" font-size="14.2" text-anchor="middle" fill="#111"  stroke="#111" stroke-width="0.22">20</text>
<text x="374.2" y="906.3" font-size="14.2" text-anchor="end" fill="#111"  stroke="#111" stroke-width="0.22">0</text>
<text x="374.2" y="880.5" font-size="14.2" text-anchor="end" fill="#111"  stroke="#111" stroke-width="0.22">10</text>
<text x="374.2" y="854.7" font-size="14.2" text-anchor="end" fill="#111"  stroke="#111" stroke-width="0.22">20</text>
<text x="374.2" y="828.9" font-size="14.2" text-anchor="end" fill="#111"  stroke="#111" stroke-width="0.22">30</text>
<text x="374.2" y="803.1" font-size="14.2" text-anchor="end" fill="#111"  stroke="#111" stroke-width="0.22">40</text>
<text x="374.2" y="777.3" font-size="14.2" text-anchor="end" fill="#111"  stroke="#111" stroke-width="0.22">50</text>
<text x="374.2" y="751.5" font-size="14.2" text-anchor="end" fill="#111"  stroke="#111" stroke-width="0.22">60</text>
<text x="374.2" y="725.7" font-size="14.2" text-anchor="end" fill="#111"  stroke="#111" stroke-width="0.22">70</text>
<text x="374.2" y="699.9" font-size="14.2" text-anchor="end" fill="#111"  stroke="#111" stroke-width="0.22">80</text>
<text x="374.2" y="674.1" font-size="14.2" text-anchor="end" fill="#111"  stroke="#111" stroke-width="0.22">90</text>
<text x="374.2" y="648.3" font-size="14.2" text-anchor="end" fill="#111"  stroke="#111" stroke-width="0.22">100</text>
<text x="335.5" y="657.9" font-size="20.5" text-anchor="start" fill="#000" stroke="#000" stroke-width="0.55">f</text>
<text x="393" y="668" font-size="14.2" text-anchor="start" fill="#111"  stroke="#111" stroke-width="0.22"><tspan font-style="italic">T</tspan> = 300 K</text>
<text transform="translate(346,772) rotate(-90)" font-size="15.5" text-anchor="middle" fill="#111" stroke="#111" stroke-width="0.25">Extrinsic ratio (%)</text>
<text x="506" y="940" font-size="15.5" text-anchor="middle" fill="#111"  stroke="#111" stroke-width="0.27">Ir composition (at.%)</text>
</svg>
</body></html>
